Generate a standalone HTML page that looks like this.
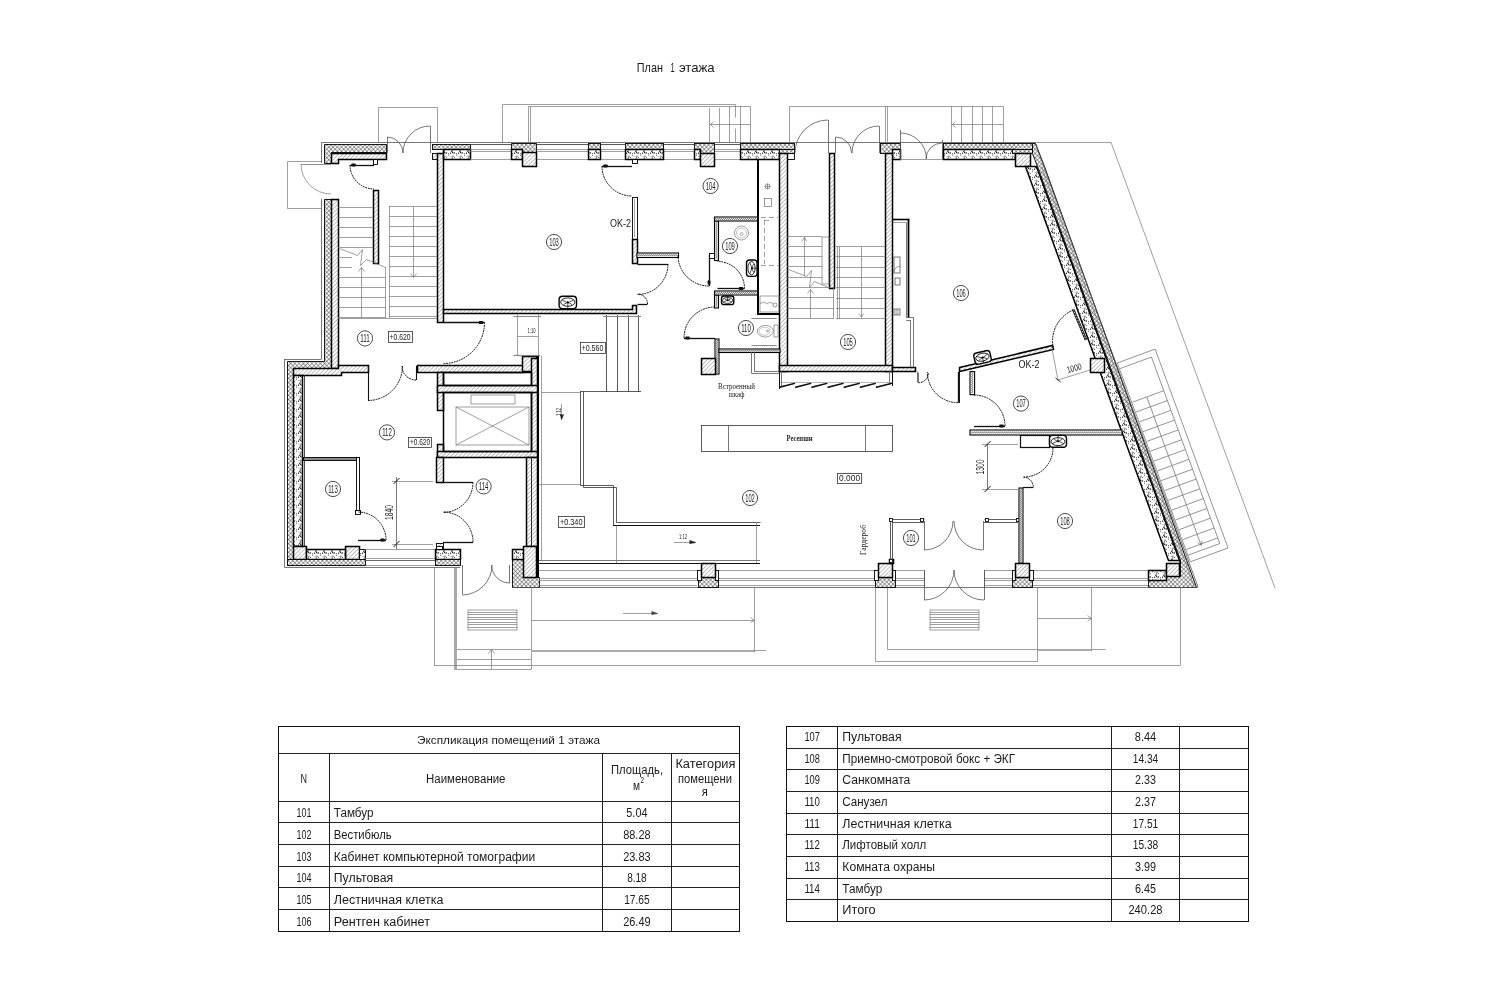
<!DOCTYPE html>
<html><head><meta charset="utf-8"><style>
html,body{margin:0;padding:0;background:#fff;}
svg{display:block;will-change:transform;}
</style></head><body>
<svg width="1500" height="1000" viewBox="0 0 1500 1000">
<defs>
<pattern id="xh" width="3.0" height="3.0" patternUnits="userSpaceOnUse" patternTransform="rotate(45)">
<rect width="3.0" height="3.0" fill="#fff"/>
<path d="M0,0 H3.0 M0,0 V3.0" stroke="#222" stroke-width="0.85"/>
</pattern>
<pattern id="dh" width="2.9" height="2.9" patternUnits="userSpaceOnUse" patternTransform="rotate(-45)">
<rect width="2.9" height="2.9" fill="#fff"/>
<path d="M0,0 H2.9" stroke="#555" stroke-width="0.75"/>
</pattern>
<pattern id="dt" width="8" height="8" patternUnits="userSpaceOnUse"><rect width="8" height="8" fill="#fff"/><circle cx="2.59" cy="1.21" r="0.61" fill="#111"/><circle cx="6.57" cy="0.75" r="0.60" fill="#222"/><circle cx="0.30" cy="3.47" r="0.47" fill="#111"/><circle cx="4.41" cy="0.47" r="0.59" fill="#222"/><circle cx="5.05" cy="4.66" r="0.47" fill="#444"/><circle cx="0.40" cy="1.77" r="0.59" fill="#222"/><circle cx="2.32" cy="1.15" r="0.48" fill="#333"/><circle cx="4.48" cy="5.46" r="0.48" fill="#222"/><circle cx="2.98" cy="4.38" r="0.47" fill="#111"/><circle cx="4.95" cy="3.97" r="0.58" fill="#333"/><circle cx="3.72" cy="7.39" r="0.54" fill="#222"/><circle cx="6.36" cy="5.59" r="0.51" fill="#333"/><circle cx="4.20" cy="7.00" r="0.63" fill="#333"/><circle cx="4.87" cy="0.59" r="0.58" fill="#222"/><circle cx="6.06" cy="1.22" r="0.57" fill="#111"/></pattern>
<pattern id="zz" width="2" height="3" patternUnits="userSpaceOnUse">
<rect width="2" height="3" fill="#fff"/>
<path d="M0,0.8 L1,2.2 L2,0.8" stroke="#444" stroke-width="0.7" fill="none"/>
</pattern>
<pattern id="zv" width="3" height="2" patternUnits="userSpaceOnUse">
<rect width="3" height="2" fill="#fff"/>
<path d="M0.8,0 L2.2,1 L0.8,2" stroke="#444" stroke-width="0.7" fill="none"/>
</pattern>
</defs>

<rect width="1500" height="1000" fill="#fff"/>
<text x="636.8" y="72.4" font-size="13.5" font-family='"Liberation Sans", sans-serif' text-anchor="start" fill="#1a1a1a" textLength="26.1" lengthAdjust="spacingAndGlyphs">План</text>
<text x="670.6" y="72.4" font-size="13.5" font-family='"Liberation Sans", sans-serif' text-anchor="start" fill="#1a1a1a" textLength="4.2" lengthAdjust="spacingAndGlyphs">1</text>
<text x="678.9" y="72.4" font-size="13.5" font-family='"Liberation Sans", sans-serif' text-anchor="start" fill="#1a1a1a" textLength="35.8" lengthAdjust="spacingAndGlyphs">этажа</text>
<rect x="278.5" y="726.5" width="461.0" height="205.0" fill="none" stroke="#111" stroke-width="1"/>
<line x1="278.4" y1="753.5" x2="739.4" y2="753.5" stroke="#222" stroke-width="1"/>
<line x1="278.4" y1="801.5" x2="739.4" y2="801.5" stroke="#222" stroke-width="1"/>
<line x1="278.4" y1="822.5" x2="739.4" y2="822.5" stroke="#222" stroke-width="1"/>
<line x1="278.4" y1="844.5" x2="739.4" y2="844.5" stroke="#222" stroke-width="1"/>
<line x1="278.4" y1="866.5" x2="739.4" y2="866.5" stroke="#222" stroke-width="1"/>
<line x1="278.4" y1="887.5" x2="739.4" y2="887.5" stroke="#222" stroke-width="1"/>
<line x1="278.4" y1="909.5" x2="739.4" y2="909.5" stroke="#222" stroke-width="1"/>
<line x1="329.5" y1="753.5" x2="329.5" y2="931.3" stroke="#222" stroke-width="1"/>
<line x1="602.5" y1="753.5" x2="602.5" y2="931.3" stroke="#222" stroke-width="1"/>
<line x1="671.5" y1="753.5" x2="671.5" y2="931.3" stroke="#222" stroke-width="1"/>
<text x="417.0" y="744.2" font-size="11.5" font-family='"Liberation Sans", sans-serif' text-anchor="start" fill="#1a1a1a" textLength="183.0" lengthAdjust="spacingAndGlyphs">Экспликация помещений 1 этажа</text>
<text x="303.7" y="782.7" font-size="12" font-family='"Liberation Sans", sans-serif' text-anchor="middle" fill="#1a1a1a" textLength="6.5" lengthAdjust="spacingAndGlyphs">N</text>
<text x="426.0" y="782.7" font-size="12.5" font-family='"Liberation Sans", sans-serif' text-anchor="start" fill="#1a1a1a" textLength="79.5" lengthAdjust="spacingAndGlyphs">Наименование</text>
<text x="611.0" y="774.0" font-size="12.5" font-family='"Liberation Sans", sans-serif' text-anchor="start" fill="#1a1a1a" textLength="52.0" lengthAdjust="spacingAndGlyphs">Площадь,</text>
<text x="636.4" y="790.4" font-size="12.5" font-family='"Liberation Sans", sans-serif' text-anchor="middle" fill="#1a1a1a" textLength="7.0" lengthAdjust="spacingAndGlyphs">м</text>
<text x="642.3" y="782.6" font-size="8.5" font-family='"Liberation Sans", sans-serif' text-anchor="middle" fill="#1a1a1a" textLength="3.6" lengthAdjust="spacingAndGlyphs">2</text>
<text x="675.4" y="768.0" font-size="12.5" font-family='"Liberation Sans", sans-serif' text-anchor="start" fill="#1a1a1a" textLength="60.0" lengthAdjust="spacingAndGlyphs">Категория</text>
<text x="678.0" y="782.7" font-size="12.5" font-family='"Liberation Sans", sans-serif' text-anchor="start" fill="#1a1a1a" textLength="54.0" lengthAdjust="spacingAndGlyphs">помещени</text>
<text x="704.7" y="796.0" font-size="12.5" font-family='"Liberation Sans", sans-serif' text-anchor="middle" fill="#1a1a1a" textLength="6.0" lengthAdjust="spacingAndGlyphs">я</text>
<text x="303.9" y="817.0" font-size="12.5" font-family='"Liberation Sans", sans-serif' text-anchor="middle" fill="#1a1a1a" textLength="15.0" lengthAdjust="spacingAndGlyphs">101</text>
<text x="333.8" y="817.0" font-size="12.5" font-family='"Liberation Sans", sans-serif' text-anchor="start" fill="#1a1a1a" textLength="39.6" lengthAdjust="spacingAndGlyphs">Тамбур</text>
<text x="636.9" y="817.0" font-size="12.5" font-family='"Liberation Sans", sans-serif' text-anchor="middle" fill="#1a1a1a" textLength="21.1" lengthAdjust="spacingAndGlyphs">5.04</text>
<text x="303.9" y="839.0" font-size="12.5" font-family='"Liberation Sans", sans-serif' text-anchor="middle" fill="#1a1a1a" textLength="15.0" lengthAdjust="spacingAndGlyphs">102</text>
<text x="333.8" y="839.0" font-size="12.5" font-family='"Liberation Sans", sans-serif' text-anchor="start" fill="#1a1a1a" textLength="57.9" lengthAdjust="spacingAndGlyphs">Вестибюль</text>
<text x="636.9" y="839.0" font-size="12.5" font-family='"Liberation Sans", sans-serif' text-anchor="middle" fill="#1a1a1a" textLength="27.5" lengthAdjust="spacingAndGlyphs">88.28</text>
<text x="303.9" y="861.0" font-size="12.5" font-family='"Liberation Sans", sans-serif' text-anchor="middle" fill="#1a1a1a" textLength="15.0" lengthAdjust="spacingAndGlyphs">103</text>
<text x="333.8" y="861.0" font-size="12.5" font-family='"Liberation Sans", sans-serif' text-anchor="start" fill="#1a1a1a" textLength="201.4" lengthAdjust="spacingAndGlyphs">Кабинет компьютерной томографии</text>
<text x="636.9" y="861.0" font-size="12.5" font-family='"Liberation Sans", sans-serif' text-anchor="middle" fill="#1a1a1a" textLength="27.5" lengthAdjust="spacingAndGlyphs">23.83</text>
<text x="303.9" y="882.4" font-size="12.5" font-family='"Liberation Sans", sans-serif' text-anchor="middle" fill="#1a1a1a" textLength="15.0" lengthAdjust="spacingAndGlyphs">104</text>
<text x="333.8" y="882.4" font-size="12.5" font-family='"Liberation Sans", sans-serif' text-anchor="start" fill="#1a1a1a" textLength="59.4" lengthAdjust="spacingAndGlyphs">Пультовая</text>
<text x="636.9" y="882.4" font-size="12.5" font-family='"Liberation Sans", sans-serif' text-anchor="middle" fill="#1a1a1a" textLength="19.5" lengthAdjust="spacingAndGlyphs">8.18</text>
<text x="303.9" y="904.0" font-size="12.5" font-family='"Liberation Sans", sans-serif' text-anchor="middle" fill="#1a1a1a" textLength="15.0" lengthAdjust="spacingAndGlyphs">105</text>
<text x="333.8" y="904.0" font-size="12.5" font-family='"Liberation Sans", sans-serif' text-anchor="start" fill="#1a1a1a" textLength="109.6" lengthAdjust="spacingAndGlyphs">Лестничная клетка</text>
<text x="636.9" y="904.0" font-size="12.5" font-family='"Liberation Sans", sans-serif' text-anchor="middle" fill="#1a1a1a" textLength="25.5" lengthAdjust="spacingAndGlyphs">17.65</text>
<text x="303.9" y="926.0" font-size="12.5" font-family='"Liberation Sans", sans-serif' text-anchor="middle" fill="#1a1a1a" textLength="15.0" lengthAdjust="spacingAndGlyphs">106</text>
<text x="333.8" y="926.0" font-size="12.5" font-family='"Liberation Sans", sans-serif' text-anchor="start" fill="#1a1a1a" textLength="96.2" lengthAdjust="spacingAndGlyphs">Рентген кабинет</text>
<text x="636.9" y="926.0" font-size="12.5" font-family='"Liberation Sans", sans-serif' text-anchor="middle" fill="#1a1a1a" textLength="27.5" lengthAdjust="spacingAndGlyphs">26.49</text>
<rect x="786.5" y="726.5" width="462.0" height="195.0" fill="none" stroke="#111" stroke-width="1"/>
<line x1="786.6" y1="748.5" x2="1248.2" y2="748.5" stroke="#222" stroke-width="1"/>
<line x1="786.6" y1="769.5" x2="1248.2" y2="769.5" stroke="#222" stroke-width="1"/>
<line x1="786.6" y1="791.5" x2="1248.2" y2="791.5" stroke="#222" stroke-width="1"/>
<line x1="786.6" y1="813.5" x2="1248.2" y2="813.5" stroke="#222" stroke-width="1"/>
<line x1="786.6" y1="834.5" x2="1248.2" y2="834.5" stroke="#222" stroke-width="1"/>
<line x1="786.6" y1="856.5" x2="1248.2" y2="856.5" stroke="#222" stroke-width="1"/>
<line x1="786.6" y1="878.5" x2="1248.2" y2="878.5" stroke="#222" stroke-width="1"/>
<line x1="786.6" y1="899.5" x2="1248.2" y2="899.5" stroke="#222" stroke-width="1"/>
<line x1="837.5" y1="726.6" x2="837.5" y2="921.1" stroke="#222" stroke-width="1"/>
<line x1="1111.5" y1="726.6" x2="1111.5" y2="921.1" stroke="#222" stroke-width="1"/>
<line x1="1179.5" y1="726.6" x2="1179.5" y2="921.1" stroke="#222" stroke-width="1"/>
<text x="812.2" y="741.2" font-size="12.5" font-family='"Liberation Sans", sans-serif' text-anchor="middle" fill="#1a1a1a" textLength="15.5" lengthAdjust="spacingAndGlyphs">107</text>
<text x="842.3" y="741.2" font-size="12.5" font-family='"Liberation Sans", sans-serif' text-anchor="start" fill="#1a1a1a" textLength="59.2" lengthAdjust="spacingAndGlyphs">Пультовая</text>
<text x="1145.5" y="741.2" font-size="12.5" font-family='"Liberation Sans", sans-serif' text-anchor="middle" fill="#1a1a1a" textLength="21.5" lengthAdjust="spacingAndGlyphs">8.44</text>
<text x="812.2" y="762.7" font-size="12.5" font-family='"Liberation Sans", sans-serif' text-anchor="middle" fill="#1a1a1a" textLength="15.5" lengthAdjust="spacingAndGlyphs">108</text>
<text x="842.3" y="762.7" font-size="12.5" font-family='"Liberation Sans", sans-serif' text-anchor="start" fill="#1a1a1a" textLength="172.7" lengthAdjust="spacingAndGlyphs">Приемно-смотровой бокс + ЭКГ</text>
<text x="1145.5" y="762.7" font-size="12.5" font-family='"Liberation Sans", sans-serif' text-anchor="middle" fill="#1a1a1a" textLength="25.3" lengthAdjust="spacingAndGlyphs">14.34</text>
<text x="812.2" y="784.3" font-size="12.5" font-family='"Liberation Sans", sans-serif' text-anchor="middle" fill="#1a1a1a" textLength="15.5" lengthAdjust="spacingAndGlyphs">109</text>
<text x="842.3" y="784.3" font-size="12.5" font-family='"Liberation Sans", sans-serif' text-anchor="start" fill="#1a1a1a" textLength="68.0" lengthAdjust="spacingAndGlyphs">Санкомната</text>
<text x="1145.5" y="784.3" font-size="12.5" font-family='"Liberation Sans", sans-serif' text-anchor="middle" fill="#1a1a1a" textLength="21.0" lengthAdjust="spacingAndGlyphs">2.33</text>
<text x="812.2" y="806.3" font-size="12.5" font-family='"Liberation Sans", sans-serif' text-anchor="middle" fill="#1a1a1a" textLength="15.5" lengthAdjust="spacingAndGlyphs">110</text>
<text x="842.3" y="806.3" font-size="12.5" font-family='"Liberation Sans", sans-serif' text-anchor="start" fill="#1a1a1a" textLength="45.1" lengthAdjust="spacingAndGlyphs">Санузел</text>
<text x="1145.5" y="806.3" font-size="12.5" font-family='"Liberation Sans", sans-serif' text-anchor="middle" fill="#1a1a1a" textLength="21.0" lengthAdjust="spacingAndGlyphs">2.37</text>
<text x="812.2" y="827.7" font-size="12.5" font-family='"Liberation Sans", sans-serif' text-anchor="middle" fill="#1a1a1a" textLength="15.5" lengthAdjust="spacingAndGlyphs">111</text>
<text x="842.3" y="827.7" font-size="12.5" font-family='"Liberation Sans", sans-serif' text-anchor="start" fill="#1a1a1a" textLength="109.4" lengthAdjust="spacingAndGlyphs">Лестничная клетка</text>
<text x="1145.5" y="827.7" font-size="12.5" font-family='"Liberation Sans", sans-serif' text-anchor="middle" fill="#1a1a1a" textLength="25.3" lengthAdjust="spacingAndGlyphs">17.51</text>
<text x="812.2" y="849.4" font-size="12.5" font-family='"Liberation Sans", sans-serif' text-anchor="middle" fill="#1a1a1a" textLength="15.5" lengthAdjust="spacingAndGlyphs">112</text>
<text x="842.3" y="849.4" font-size="12.5" font-family='"Liberation Sans", sans-serif' text-anchor="start" fill="#1a1a1a" textLength="84.0" lengthAdjust="spacingAndGlyphs">Лифтовый холл</text>
<text x="1145.5" y="849.4" font-size="12.5" font-family='"Liberation Sans", sans-serif' text-anchor="middle" fill="#1a1a1a" textLength="25.3" lengthAdjust="spacingAndGlyphs">15.38</text>
<text x="812.2" y="871.0" font-size="12.5" font-family='"Liberation Sans", sans-serif' text-anchor="middle" fill="#1a1a1a" textLength="15.5" lengthAdjust="spacingAndGlyphs">113</text>
<text x="842.3" y="871.0" font-size="12.5" font-family='"Liberation Sans", sans-serif' text-anchor="start" fill="#1a1a1a" textLength="92.8" lengthAdjust="spacingAndGlyphs">Комната охраны</text>
<text x="1145.5" y="871.0" font-size="12.5" font-family='"Liberation Sans", sans-serif' text-anchor="middle" fill="#1a1a1a" textLength="21.0" lengthAdjust="spacingAndGlyphs">3.99</text>
<text x="812.2" y="892.6" font-size="12.5" font-family='"Liberation Sans", sans-serif' text-anchor="middle" fill="#1a1a1a" textLength="15.5" lengthAdjust="spacingAndGlyphs">114</text>
<text x="842.3" y="892.6" font-size="12.5" font-family='"Liberation Sans", sans-serif' text-anchor="start" fill="#1a1a1a" textLength="40.0" lengthAdjust="spacingAndGlyphs">Тамбур</text>
<text x="1145.5" y="892.6" font-size="12.5" font-family='"Liberation Sans", sans-serif' text-anchor="middle" fill="#1a1a1a" textLength="21.0" lengthAdjust="spacingAndGlyphs">6.45</text>
<text x="842.3" y="914.1" font-size="12.5" font-family='"Liberation Sans", sans-serif' text-anchor="start" fill="#1a1a1a" textLength="33.4" lengthAdjust="spacingAndGlyphs">Итого</text>
<text x="1145.5" y="914.1" font-size="12.5" font-family='"Liberation Sans", sans-serif' text-anchor="middle" fill="#1a1a1a" textLength="34.2" lengthAdjust="spacingAndGlyphs">240.28</text>
<polyline points="378.5,142.5 378.5,107.5 437.5,107.5 437.5,142.5" stroke="#777" stroke-width="0.7" fill="none"/>
<polyline points="321.5,161.5 287.5,161.5 287.5,208.5 321.5,208.5" stroke="#777" stroke-width="0.7" fill="none"/>
<line x1="321.6" y1="142.5" x2="1035.0" y2="142.5" stroke="#555" stroke-width="0.8" fill="none"/>
<line x1="321.5" y1="142.4" x2="321.5" y2="163.0" stroke="#555" stroke-width="0.8" fill="none"/>
<line x1="321.5" y1="199.0" x2="321.5" y2="359.0" stroke="#555" stroke-width="0.8" fill="none"/>
<line x1="321.6" y1="359.5" x2="284.3" y2="359.5" stroke="#555" stroke-width="0.8" fill="none"/>
<line x1="284.5" y1="359.0" x2="284.5" y2="567.0" stroke="#555" stroke-width="0.8" fill="none"/>
<line x1="284.3" y1="567.5" x2="460.0" y2="567.5" stroke="#555" stroke-width="0.8" fill="none"/>
<polygon points="324.5,144.5 386.5,144.5 386.5,152.5 331.5,152.5 331.5,163.5 324.5,163.5" fill="url(#xh)" stroke="#000" stroke-width="0.9"/>
<polygon points="324.5,199.5 331.5,199.5 331.5,368.5 293.5,368.5 293.5,565.5 287.5,565.5 287.5,361.5 324.5,361.5" fill="url(#xh)" stroke="#000" stroke-width="0.9"/>
<polygon points="331.5,153.5 386.5,153.5 386.5,159.5 338.5,159.5 338.5,163.5 331.5,163.5" fill="url(#dh)" stroke="#000" stroke-width="1.5"/>
<rect x="331.5" y="199.5" width="7.0" height="169.0" fill="url(#dh)" stroke="#000" stroke-width="1.5"/>
<rect x="373.5" y="159.5" width="4.0" height="5.0" fill="#fff" stroke="#000" stroke-width="0.9"/>
<line x1="387.5" y1="137.0" x2="387.5" y2="153.0" stroke="#555" stroke-width="0.8" fill="none"/>
<path d="M387.0,137.0 A16.0,16.0 0 0 1 403.0,153.0" stroke="#555" stroke-width="0.8" fill="none"/>
<line x1="430.5" y1="126.0" x2="430.5" y2="153.0" stroke="#555" stroke-width="0.8" fill="none"/>
<path d="M430.0,126.0 A27.0,27.0 0 0 0 403.0,153.0" stroke="#555" stroke-width="0.8" fill="none"/>
<line x1="331.0" y1="164.5" x2="301.0" y2="164.5" stroke="#777" stroke-width="0.8"/>
<path d="M301.0,164.0 A30.0,30.0 0 0 0 331.0,194.0" stroke="#777" stroke-width="0.7" fill="none"/>
<line x1="374.0" y1="165.5" x2="350.0" y2="165.5" stroke="#111" stroke-width="1.3"/>
<path d="M350.0,165.0 A24.0,24.0 0 0 0 374.0,189.0" stroke="#000" stroke-width="0.95" fill="none" stroke-dasharray="1.8,0.8"/>
<rect x="351.2" y="163.6" width="4.6" height="2.8" rx="1" fill="#111" transform="rotate(180 353.5 165.0)"/>
<rect x="373.5" y="190.5" width="5.0" height="73.0" fill="url(#dh)" stroke="#000" stroke-width="1.5"/>
<rect x="432.5" y="144.5" width="38.0" height="5.0" fill="url(#xh)" stroke="#000" stroke-width="0.9"/>
<rect x="432.5" y="153.5" width="5.0" height="6.0" fill="url(#dh)" stroke="#000" stroke-width="0.9"/>
<rect x="437.5" y="153.5" width="6.0" height="169.0" fill="url(#dh)" stroke="#000" stroke-width="1.5"/>
<rect x="443.5" y="149.5" width="27.0" height="10.0" fill="url(#dt)" stroke="#000" stroke-width="1.5"/>
<line x1="338.0" y1="207.5" x2="373.4" y2="207.5" stroke="#777" stroke-width="0.7" fill="none"/>
<line x1="389.4" y1="206.5" x2="437.0" y2="206.5" stroke="#777" stroke-width="0.7" fill="none"/>
<line x1="338.0" y1="217.5" x2="373.4" y2="217.5" stroke="#777" stroke-width="0.7" fill="none"/>
<line x1="389.4" y1="216.5" x2="437.0" y2="216.5" stroke="#777" stroke-width="0.7" fill="none"/>
<line x1="338.0" y1="227.5" x2="373.4" y2="227.5" stroke="#777" stroke-width="0.7" fill="none"/>
<line x1="389.4" y1="226.5" x2="437.0" y2="226.5" stroke="#777" stroke-width="0.7" fill="none"/>
<line x1="338.0" y1="237.5" x2="373.4" y2="237.5" stroke="#777" stroke-width="0.7" fill="none"/>
<line x1="389.4" y1="236.5" x2="437.0" y2="236.5" stroke="#777" stroke-width="0.7" fill="none"/>
<line x1="338.0" y1="247.5" x2="373.4" y2="247.5" stroke="#777" stroke-width="0.7" fill="none"/>
<line x1="389.4" y1="246.5" x2="437.0" y2="246.5" stroke="#777" stroke-width="0.7" fill="none"/>
<line x1="338.0" y1="257.5" x2="352.0" y2="257.5" stroke="#777" stroke-width="0.7" fill="none"/>
<line x1="389.4" y1="256.5" x2="437.0" y2="256.5" stroke="#777" stroke-width="0.7" fill="none"/>
<line x1="338.0" y1="267.5" x2="352.0" y2="267.5" stroke="#777" stroke-width="0.7" fill="none"/>
<line x1="389.4" y1="266.5" x2="437.0" y2="266.5" stroke="#777" stroke-width="0.7" fill="none"/>
<line x1="338.0" y1="277.5" x2="385.4" y2="277.5" stroke="#777" stroke-width="0.7" fill="none"/>
<line x1="389.4" y1="276.5" x2="437.0" y2="276.5" stroke="#777" stroke-width="0.7" fill="none"/>
<line x1="338.0" y1="287.5" x2="385.4" y2="287.5" stroke="#777" stroke-width="0.7" fill="none"/>
<line x1="389.4" y1="286.5" x2="437.0" y2="286.5" stroke="#777" stroke-width="0.7" fill="none"/>
<line x1="338.0" y1="297.5" x2="385.4" y2="297.5" stroke="#777" stroke-width="0.7" fill="none"/>
<line x1="389.4" y1="296.5" x2="437.0" y2="296.5" stroke="#777" stroke-width="0.7" fill="none"/>
<line x1="338.0" y1="307.5" x2="385.4" y2="307.5" stroke="#777" stroke-width="0.7" fill="none"/>
<line x1="389.4" y1="306.5" x2="437.0" y2="306.5" stroke="#777" stroke-width="0.7" fill="none"/>
<line x1="338.0" y1="317.5" x2="385.4" y2="317.5" stroke="#777" stroke-width="0.7" fill="none"/>
<line x1="389.4" y1="316.5" x2="437.0" y2="316.5" stroke="#777" stroke-width="0.7" fill="none"/>
<line x1="338.0" y1="318.5" x2="437.0" y2="318.5" stroke="#777" stroke-width="0.7" fill="none"/>
<line x1="385.5" y1="267.0" x2="385.5" y2="318.0" stroke="#777" stroke-width="0.7" fill="none"/>
<line x1="389.5" y1="206.0" x2="389.5" y2="318.0" stroke="#777" stroke-width="0.7" fill="none"/>
<polyline points="339.5,248.5 357.5,255.5 362.5,249.5 360.5,265.5 366.5,259.5 385.5,267.5" stroke="#777" stroke-width="0.7" fill="none"/>
<line x1="361.5" y1="318.0" x2="361.5" y2="267.0" stroke="#777" stroke-width="0.7" fill="none"/>
<polyline points="358.5,271.5 361.5,267.5 364.5,271.5" stroke="#777" stroke-width="0.7" fill="none"/>
<line x1="413.5" y1="207.0" x2="413.5" y2="277.0" stroke="#777" stroke-width="0.7" fill="none"/>
<polyline points="410.5,273.5 413.5,277.5 416.5,273.5" stroke="#777" stroke-width="0.7" fill="none"/>
<circle cx="365.0" cy="338.4" r="7.6" fill="none" stroke="#222" stroke-width="0.8"/>
<text x="365.0" y="341.9" font-size="10" font-family='"Liberation Sans", sans-serif' text-anchor="middle" fill="#1a1a1a" textLength="9.6" lengthAdjust="spacingAndGlyphs">111</text>
<rect x="388.5" y="331.5" width="24.0" height="11.0" fill="none" stroke="#333" stroke-width="0.8"/>
<text x="400.0" y="340.1" font-size="9.5" font-family='"Liberation Sans", sans-serif' text-anchor="middle" fill="#1a1a1a" textLength="21.0" lengthAdjust="spacingAndGlyphs">+0.620</text>
<polyline points="502.5,142.5 502.5,104.5 735.5,104.5 735.5,117.5" stroke="#777" stroke-width="0.7" fill="none"/>
<line x1="735.5" y1="128.5" x2="735.5" y2="142.4" stroke="#777" stroke-width="0.7" fill="none"/>
<polyline points="528.5,142.5 528.5,106.5 750.5,106.5 750.5,142.5" stroke="#777" stroke-width="0.7" fill="none"/>
<line x1="530.5" y1="106.4" x2="530.5" y2="142.4" stroke="#777" stroke-width="0.7" fill="none"/>
<line x1="709.5" y1="108.0" x2="709.5" y2="142.4" stroke="#777" stroke-width="0.7" fill="none"/>
<line x1="719.5" y1="108.0" x2="719.5" y2="142.4" stroke="#777" stroke-width="0.7" fill="none"/>
<line x1="729.5" y1="106.4" x2="729.5" y2="142.4" stroke="#777" stroke-width="0.7" fill="none"/>
<line x1="740.5" y1="106.4" x2="740.5" y2="142.4" stroke="#777" stroke-width="0.7" fill="none"/>
<line x1="709.6" y1="124.5" x2="750.4" y2="124.5" stroke="#777" stroke-width="0.7" fill="none"/>
<polyline points="713.5,121.5 710.5,124.5 713.5,127.5" stroke="#777" stroke-width="0.7" fill="none"/>
<polyline points="789.5,142.5 789.5,106.5 1003.5,106.5 1003.5,142.5" stroke="#777" stroke-width="0.7" fill="none"/>
<line x1="885.5" y1="106.4" x2="885.5" y2="142.4" stroke="#777" stroke-width="0.7" fill="none"/>
<line x1="887.5" y1="106.4" x2="887.5" y2="142.4" stroke="#777" stroke-width="0.7" fill="none"/>
<line x1="951.5" y1="106.4" x2="951.5" y2="142.4" stroke="#777" stroke-width="0.7" fill="none"/>
<line x1="961.5" y1="106.4" x2="961.5" y2="142.4" stroke="#777" stroke-width="0.7" fill="none"/>
<line x1="972.5" y1="106.4" x2="972.5" y2="142.4" stroke="#777" stroke-width="0.7" fill="none"/>
<line x1="982.5" y1="106.4" x2="982.5" y2="142.4" stroke="#777" stroke-width="0.7" fill="none"/>
<line x1="992.5" y1="106.4" x2="992.5" y2="142.4" stroke="#777" stroke-width="0.7" fill="none"/>
<line x1="951.0" y1="124.5" x2="1003.0" y2="124.5" stroke="#777" stroke-width="0.7" fill="none"/>
<polyline points="955.5,121.5 952.5,124.5 955.5,127.5" stroke="#777" stroke-width="0.7" fill="none"/>
<line x1="470.0" y1="144.5" x2="511.6" y2="144.5" stroke="#333" stroke-width="0.8"/>
<line x1="470.0" y1="149.5" x2="511.6" y2="149.5" stroke="#777" stroke-width="0.7" fill="none"/>
<line x1="470.0" y1="151.5" x2="511.6" y2="151.5" stroke="#777" stroke-width="0.7" fill="none"/>
<line x1="470.0" y1="159.5" x2="511.6" y2="159.5" stroke="#777" stroke-width="0.7" fill="none"/>
<line x1="536.4" y1="144.5" x2="588.4" y2="144.5" stroke="#333" stroke-width="0.8"/>
<line x1="536.4" y1="149.5" x2="588.4" y2="149.5" stroke="#777" stroke-width="0.7" fill="none"/>
<line x1="536.4" y1="151.5" x2="588.4" y2="151.5" stroke="#777" stroke-width="0.7" fill="none"/>
<line x1="536.4" y1="159.5" x2="588.4" y2="159.5" stroke="#777" stroke-width="0.7" fill="none"/>
<line x1="600.4" y1="144.5" x2="625.6" y2="144.5" stroke="#333" stroke-width="0.8"/>
<line x1="600.4" y1="149.5" x2="625.6" y2="149.5" stroke="#777" stroke-width="0.7" fill="none"/>
<line x1="600.4" y1="151.5" x2="625.6" y2="151.5" stroke="#777" stroke-width="0.7" fill="none"/>
<line x1="600.4" y1="159.5" x2="625.6" y2="159.5" stroke="#777" stroke-width="0.7" fill="none"/>
<line x1="663.6" y1="144.5" x2="694.0" y2="144.5" stroke="#333" stroke-width="0.8"/>
<line x1="663.6" y1="149.5" x2="694.0" y2="149.5" stroke="#777" stroke-width="0.7" fill="none"/>
<line x1="663.6" y1="151.5" x2="694.0" y2="151.5" stroke="#777" stroke-width="0.7" fill="none"/>
<line x1="663.6" y1="159.5" x2="694.0" y2="159.5" stroke="#777" stroke-width="0.7" fill="none"/>
<line x1="714.4" y1="144.5" x2="740.4" y2="144.5" stroke="#333" stroke-width="0.8"/>
<line x1="714.4" y1="149.5" x2="740.4" y2="149.5" stroke="#777" stroke-width="0.7" fill="none"/>
<line x1="714.4" y1="151.5" x2="740.4" y2="151.5" stroke="#777" stroke-width="0.7" fill="none"/>
<line x1="714.4" y1="159.5" x2="740.4" y2="159.5" stroke="#777" stroke-width="0.7" fill="none"/>
<polygon points="511.5,143.5 536.5,143.5 536.5,152.5 522.5,152.5 522.5,149.5 511.5,149.5" fill="url(#xh)" stroke="#000" stroke-width="0.9"/>
<rect x="511.5" y="149.5" width="11.0" height="10.0" fill="url(#dt)" stroke="#000" stroke-width="1.5"/>
<rect x="522.5" y="152.5" width="14.0" height="14.0" fill="url(#dh)" stroke="#000" stroke-width="1.5"/>
<rect x="588.5" y="143.5" width="12.0" height="6.0" fill="url(#xh)" stroke="#000" stroke-width="0.9"/>
<rect x="588.5" y="149.5" width="12.0" height="10.0" fill="url(#dt)" stroke="#000" stroke-width="1.5"/>
<rect x="625.5" y="143.5" width="38.0" height="6.0" fill="url(#xh)" stroke="#000" stroke-width="0.9"/>
<rect x="625.5" y="149.5" width="38.0" height="10.0" fill="url(#dt)" stroke="#000" stroke-width="1.5"/>
<rect x="632.5" y="159.5" width="5.0" height="4.0" fill="#fff" stroke="#000" stroke-width="0.9"/>
<rect x="694.5" y="143.5" width="20.0" height="10.0" fill="url(#xh)" stroke="#000" stroke-width="0.9"/>
<rect x="694.5" y="149.5" width="6.0" height="10.0" fill="url(#dt)" stroke="#000" stroke-width="1.5"/>
<rect x="700.5" y="153.5" width="14.0" height="13.0" fill="url(#dh)" stroke="#000" stroke-width="1.5"/>
<rect x="740.5" y="143.5" width="54.0" height="6.0" fill="url(#xh)" stroke="#000" stroke-width="0.9"/>
<rect x="740.5" y="149.5" width="39.0" height="10.0" fill="url(#dt)" stroke="#000" stroke-width="1.5"/>
<rect x="787.5" y="153.5" width="7.0" height="6.0" fill="#fff" stroke="#000" stroke-width="0.9"/>
<rect x="779.5" y="149.5" width="15.0" height="4.0" fill="url(#xh)" stroke="#000" stroke-width="0.9"/>
<rect x="779.5" y="153.5" width="8.0" height="218.0" fill="url(#dh)" stroke="#000" stroke-width="1.5"/>
<line x1="828.5" y1="120.0" x2="828.5" y2="153.0" stroke="#555" stroke-width="0.8" fill="none"/>
<path d="M828.0,120.0 A33.0,33.0 0 0 0 795.0,153.0" stroke="#555" stroke-width="0.8" fill="none"/>
<rect x="829.5" y="153.5" width="5.0" height="135.0" fill="url(#dh)" stroke="#000" stroke-width="1.5"/>
<line x1="835.5" y1="137.0" x2="835.5" y2="153.0" stroke="#555" stroke-width="0.8" fill="none"/>
<path d="M835.6,137.0 A16.0,16.0 0 0 1 851.6,153.0" stroke="#555" stroke-width="0.8" fill="none"/>
<line x1="879.5" y1="126.0" x2="879.5" y2="153.0" stroke="#555" stroke-width="0.8" fill="none"/>
<path d="M879.0,126.0 A27.0,27.0 0 0 0 852.0,153.0" stroke="#555" stroke-width="0.8" fill="none"/>
<rect x="880.5" y="143.5" width="20.0" height="10.0" fill="url(#xh)" stroke="#000" stroke-width="0.9"/>
<rect x="892.5" y="149.5" width="8.0" height="10.0" fill="url(#dt)" stroke="#000" stroke-width="1.5"/>
<rect x="885.5" y="153.5" width="7.0" height="218.0" fill="url(#dh)" stroke="#000" stroke-width="1.5"/>
<line x1="900.5" y1="130.0" x2="900.5" y2="159.0" stroke="#555" stroke-width="0.8" fill="none"/>
<path d="M900.4,133.0 A26.0,26.0 0 0 1 926.4,159.0" stroke="#555" stroke-width="0.8" fill="none"/>
<line x1="942.5" y1="140.0" x2="942.5" y2="159.0" stroke="#555" stroke-width="0.8" fill="none"/>
<path d="M942.0,143.0 A16.0,16.0 0 0 0 926.0,159.0" stroke="#555" stroke-width="0.8" fill="none"/>
<line x1="900.0" y1="159.5" x2="943.0" y2="159.5" stroke="#777" stroke-width="0.7" fill="none"/>
<rect x="943.5" y="143.5" width="89.0" height="6.0" fill="url(#xh)" stroke="#000" stroke-width="0.9"/>
<rect x="943.5" y="149.5" width="72.0" height="10.0" fill="url(#dt)" stroke="#000" stroke-width="1.5"/>
<rect x="1012.5" y="149.5" width="20.0" height="4.0" fill="url(#xh)" stroke="#000" stroke-width="0.9"/>
<rect x="1015.5" y="153.5" width="15.0" height="13.0" fill="url(#dh)" stroke="#000" stroke-width="1.5"/>
<polygon points="1030.5,166.5 1036.5,166.5 1179.5,560.5 1180.5,563.5 1180.5,560.5 1168.5,560.5 1025.5,166.5" fill="url(#dt)" stroke="#000" stroke-width="1.5"/>
<polygon points="1032.5,143.5 1035.5,143.5 1044.5,166.5 1196.5,587.5 1148.5,587.5 1148.5,580.5 1166.5,580.5 1166.5,576.5 1180.5,576.5 1180.5,563.5 1180.5,560.5 1037.5,166.5 1032.5,153.5" fill="url(#xh)" stroke="#000" stroke-width="0.9"/>
<line x1="1035.0" y1="142.4" x2="1198.0" y2="587.0" stroke="#555" stroke-width="0.8" fill="none"/>
<line x1="1041.5" y1="166.6" x2="1194.3" y2="587.0" stroke="#777" stroke-width="0.7" fill="none"/>
<rect x="1148.5" y="570.5" width="18.0" height="10.0" fill="url(#dt)" stroke="#000" stroke-width="1.5"/>
<rect x="1166.5" y="563.5" width="13.0" height="13.0" fill="url(#dh)" stroke="#000" stroke-width="1.5"/>
<line x1="1148.0" y1="587.5" x2="1198.0" y2="587.5" stroke="#555" stroke-width="0.8" fill="none"/>
<line x1="1035.0" y1="142.5" x2="1111.0" y2="142.5" stroke="#777" stroke-width="0.7" fill="none"/>
<line x1="1111.0" y1="142.4" x2="1275.0" y2="588.0" stroke="#777" stroke-width="0.7" fill="none"/>
<polygon points="443.5,309.5 632.5,309.5 632.5,305.5 636.5,305.5 636.5,313.5 443.5,313.5" fill="url(#dh)" stroke="#000" stroke-width="1.5"/>
<rect x="632.5" y="197.5" width="5.0" height="42.0" fill="#fff" stroke="#000" stroke-width="0.9"/>
<line x1="634.5" y1="199.0" x2="634.5" y2="237.0" stroke="#666" stroke-width="0.6"/>
<rect x="632.5" y="239.5" width="5.0" height="24.0" fill="url(#dh)" stroke="#000" stroke-width="1.5"/>
<text x="610.0" y="226.5" font-size="10" font-family='"Liberation Sans", sans-serif' text-anchor="start" fill="#1a1a1a" textLength="21.0" lengthAdjust="spacingAndGlyphs">OK-2</text>
<line x1="632.0" y1="166.5" x2="602.0" y2="166.5" stroke="#111" stroke-width="1.3"/>
<path d="M602.0,166.0 A30.0,30.0 0 0 0 632.0,196.0" stroke="#000" stroke-width="0.95" fill="none" stroke-dasharray="1.8,0.8"/>
<rect x="603.2" y="164.6" width="4.6" height="2.8" rx="1" fill="#111" transform="rotate(180 605.5 166.0)"/>
<rect x="637.0" y="253.0" width="41.5" height="4.5" fill="#fff" stroke="#000" stroke-width="1.1"/>
<polyline points="637.8,254.3 638.8,256.1 639.8,254.3 640.8,256.1 641.8,254.3 642.8,256.1 643.8,254.3 644.8,256.1 645.8,254.3 646.8,256.1 647.8,254.3 648.8,256.1 649.8,254.3 650.8,256.1 651.8,254.3 652.8,256.1 653.8,254.3 654.8,256.1 655.8,254.3 656.8,256.1 657.8,254.3 658.8,256.1 659.8,254.3 660.8,256.1 661.8,254.3 662.8,256.1 663.8,254.3 664.8,256.1 665.8,254.3 666.8,256.1 667.8,254.3 668.8,256.1 669.8,254.3 670.8,256.1 671.8,254.3 672.8,256.1 673.8,254.3 674.8,256.1 675.8,254.3 676.8,256.1" fill="none" stroke="#555" stroke-width="0.6"/>
<line x1="637.5" y1="264.5" x2="668.0" y2="264.5" stroke="#111" stroke-width="1.3"/>
<path d="M668.0,264.0 A30.5,30.5 0 0 1 637.5,294.5" stroke="#000" stroke-width="0.95" fill="none" stroke-dasharray="1.8,0.8"/>
<line x1="637.5" y1="304.5" x2="647.5" y2="304.5" stroke="#111" stroke-width="1.3"/>
<path d="M647.5,304.0 A10.0,10.0 0 0 0 637.5,294.0" stroke="#000" stroke-width="0.95" fill="none" stroke-dasharray="1.8,0.8"/>
<line x1="709.5" y1="255.0" x2="709.5" y2="286.0" stroke="#111" stroke-width="1.3"/>
<path d="M709.0,286.0 A31.0,31.0 0 0 1 678.0,255.0" stroke="#000" stroke-width="0.95" fill="none" stroke-dasharray="1.8,0.8"/>
<rect x="706.7" y="281.1" width="4.6" height="2.8" rx="1" fill="#111" transform="rotate(90 709.0 282.5)"/>
<rect x="709.5" y="253.5" width="5.0" height="5.0" fill="#fff" stroke="#000" stroke-width="0.9"/>
<rect x="714.5" y="221.0" width="4.0" height="39.5" fill="#fff" stroke="#000" stroke-width="1.1"/>
<polyline points="715.6,221.8 717.4,222.8 715.6,223.8 717.4,224.8 715.6,225.8 717.4,226.8 715.6,227.8 717.4,228.8 715.6,229.8 717.4,230.8 715.6,231.8 717.4,232.8 715.6,233.8 717.4,234.8 715.6,235.8 717.4,236.8 715.6,237.8 717.4,238.8 715.6,239.8 717.4,240.8 715.6,241.8 717.4,242.8 715.6,243.8 717.4,244.8 715.6,245.8 717.4,246.8 715.6,247.8 717.4,248.8 715.6,249.8 717.4,250.8 715.6,251.8 717.4,252.8 715.6,253.8 717.4,254.8 715.6,255.8 717.4,256.8 715.6,257.8 717.4,258.8" fill="none" stroke="#555" stroke-width="0.6"/>
<rect x="714.5" y="217.0" width="43.0" height="4.0" fill="#fff" stroke="#000" stroke-width="1.1"/>
<polyline points="715.3,218.1 716.3,219.9 717.3,218.1 718.3,219.9 719.3,218.1 720.3,219.9 721.3,218.1 722.3,219.9 723.3,218.1 724.3,219.9 725.3,218.1 726.3,219.9 727.3,218.1 728.3,219.9 729.3,218.1 730.3,219.9 731.3,218.1 732.3,219.9 733.3,218.1 734.3,219.9 735.3,218.1 736.3,219.9 737.3,218.1 738.3,219.9 739.3,218.1 740.3,219.9 741.3,218.1 742.3,219.9 743.3,218.1 744.3,219.9 745.3,218.1 746.3,219.9 747.3,218.1 748.3,219.9 749.3,218.1 750.3,219.9 751.3,218.1 752.3,219.9 753.3,218.1 754.3,219.9 755.3,218.1 756.3,219.9" fill="none" stroke="#555" stroke-width="0.6"/>
<circle cx="741.5" cy="233" r="7" fill="none" stroke="#777" stroke-width="0.7"/>
<circle cx="741.5" cy="233" r="5" fill="none" stroke="#999" stroke-width="0.6"/>
<circle cx="741.5" cy="234" r="1.5" fill="none" stroke="#777" stroke-width="0.6"/>
<circle cx="730.0" cy="246.0" r="7.6" fill="none" stroke="#222" stroke-width="0.8"/>
<text x="730.0" y="249.5" font-size="10" font-family='"Liberation Sans", sans-serif' text-anchor="middle" fill="#1a1a1a" textLength="9.6" lengthAdjust="spacingAndGlyphs">109</text>
<g transform="translate(751.8,268.2) rotate(-90)"><rect x="-8.2" y="-5.3" width="16.4" height="10.6" rx="2.9" fill="#fff" stroke="#000" stroke-width="1.4"/><ellipse cx="0" cy="-0.3" rx="6.7" ry="3.6" fill="none" stroke="#111" stroke-width="0.9"/><path d="M-5.7,-2.1 L0,0.3 L5.7,-2.1 M-4.1,1.9 L0,-0.3 L4.1,1.9 M0,-0.5 V5.3" fill="none" stroke="#111" stroke-width="0.7"/><path d="M0,-1.3 L-1.2,0.8 L1.2,0.8 Z" fill="#000"/></g>
<line x1="717.5" y1="288.5" x2="744.5" y2="288.5" stroke="#111" stroke-width="1.3"/>
<path d="M744.5,288.5 A27.0,27.0 0 0 0 717.5,261.5" stroke="#000" stroke-width="0.95" fill="none" stroke-dasharray="1.8,0.8"/>
<rect x="738.7" y="287.1" width="4.6" height="2.8" rx="1" fill="#111" transform="rotate(0 741.0 288.5)"/>
<rect x="714.5" y="295.0" width="4.0" height="13.0" fill="#fff" stroke="#000" stroke-width="1.1"/>
<polyline points="715.6,295.8 717.4,296.8 715.6,297.8 717.4,298.8 715.6,299.8 717.4,300.8 715.6,301.8 717.4,302.8 715.6,303.8 717.4,304.8 715.6,305.8 717.4,306.8" fill="none" stroke="#555" stroke-width="0.6"/>
<rect x="714.5" y="291.0" width="43.0" height="4.0" fill="#fff" stroke="#000" stroke-width="1.1"/>
<polyline points="715.3,292.1 716.3,293.9 717.3,292.1 718.3,293.9 719.3,292.1 720.3,293.9 721.3,292.1 722.3,293.9 723.3,292.1 724.3,293.9 725.3,292.1 726.3,293.9 727.3,292.1 728.3,293.9 729.3,292.1 730.3,293.9 731.3,292.1 732.3,293.9 733.3,292.1 734.3,293.9 735.3,292.1 736.3,293.9 737.3,292.1 738.3,293.9 739.3,292.1 740.3,293.9 741.3,292.1 742.3,293.9 743.3,292.1 744.3,293.9 745.3,292.1 746.3,293.9 747.3,292.1 748.3,293.9 749.3,292.1 750.3,293.9 751.3,292.1 752.3,293.9 753.3,292.1 754.3,293.9 755.3,292.1 756.3,293.9" fill="none" stroke="#555" stroke-width="0.6"/>
<rect x="715.0" y="339.0" width="4.0" height="35.0" fill="#fff" stroke="#000" stroke-width="1.1"/>
<polyline points="716.1,339.8 717.9,340.8 716.1,341.8 717.9,342.8 716.1,343.8 717.9,344.8 716.1,345.8 717.9,346.8 716.1,347.8 717.9,348.8 716.1,349.8 717.9,350.8 716.1,351.8 717.9,352.8 716.1,353.8 717.9,354.8 716.1,355.8 717.9,356.8 716.1,357.8 717.9,358.8 716.1,359.8 717.9,360.8 716.1,361.8 717.9,362.8 716.1,363.8 717.9,364.8 716.1,365.8 717.9,366.8 716.1,367.8 717.9,368.8 716.1,369.8 717.9,370.8 716.1,371.8 717.9,372.8" fill="none" stroke="#555" stroke-width="0.6"/>
<rect x="719.0" y="349.0" width="61.0" height="3.5" fill="#fff" stroke="#000" stroke-width="1.1"/>
<polyline points="719.8,349.9 720.8,351.6 721.8,349.9 722.8,351.6 723.8,349.9 724.8,351.6 725.8,349.9 726.8,351.6 727.8,349.9 728.8,351.6 729.8,349.9 730.8,351.6 731.8,349.9 732.8,351.6 733.8,349.9 734.8,351.6 735.8,349.9 736.8,351.6 737.8,349.9 738.8,351.6 739.8,349.9 740.8,351.6 741.8,349.9 742.8,351.6 743.8,349.9 744.8,351.6 745.8,349.9 746.8,351.6 747.8,349.9 748.8,351.6 749.8,349.9 750.8,351.6 751.8,349.9 752.8,351.6 753.8,349.9 754.8,351.6 755.8,349.9 756.8,351.6 757.8,349.9 758.8,351.6 759.8,349.9 760.8,351.6 761.8,349.9 762.8,351.6 763.8,349.9 764.8,351.6 765.8,349.9 766.8,351.6 767.8,349.9 768.8,351.6 769.8,349.9 770.8,351.6 771.8,349.9 772.8,351.6 773.8,349.9 774.8,351.6 775.8,349.9 776.8,351.6 777.8,349.9 778.8,351.6" fill="none" stroke="#555" stroke-width="0.6"/>
<rect x="701.5" y="358.5" width="14.0" height="16.0" fill="url(#dh)" stroke="#000" stroke-width="1.5"/>
<line x1="715.0" y1="338.5" x2="684.0" y2="338.5" stroke="#111" stroke-width="1.3"/>
<path d="M684.0,338.0 A31.0,31.0 0 0 1 715.0,307.0" stroke="#000" stroke-width="0.95" fill="none" stroke-dasharray="1.8,0.8"/>
<rect x="685.2" y="336.6" width="4.6" height="2.8" rx="1" fill="#111" transform="rotate(180 687.5 338.0)"/>
<circle cx="746.0" cy="328.0" r="7.6" fill="none" stroke="#222" stroke-width="0.8"/>
<text x="746.0" y="331.5" font-size="10" font-family='"Liberation Sans", sans-serif' text-anchor="middle" fill="#1a1a1a" textLength="9.6" lengthAdjust="spacingAndGlyphs">110</text>
<ellipse cx="765.3" cy="331.2" rx="8" ry="5.8" fill="none" stroke="#777" stroke-width="0.7"/>
<ellipse cx="764.5" cy="331.2" rx="5.5" ry="4" fill="none" stroke="#999" stroke-width="0.6"/>
<circle cx="767.5" cy="331" r="0.9" fill="none" stroke="#666" stroke-width="0.6"/>
<rect x="774.0" y="325.0" width="4.0" height="12.0" fill="none" stroke="#777" stroke-width="0.7" fill="none"/>
<line x1="751.4" y1="318.5" x2="776.7" y2="318.5" stroke="#888" stroke-width="1"/>
<line x1="751.4" y1="345.5" x2="776.7" y2="345.5" stroke="#888" stroke-width="1"/>
<line x1="751.5" y1="352.0" x2="751.5" y2="373.4" stroke="#555" stroke-width="0.8" fill="none"/>
<line x1="754.5" y1="352.0" x2="754.5" y2="371.0" stroke="#555" stroke-width="0.8" fill="none"/>
<line x1="754.0" y1="371.5" x2="779.0" y2="371.5" stroke="#555" stroke-width="0.8" fill="none"/>
<line x1="751.6" y1="373.5" x2="779.0" y2="373.5" stroke="#555" stroke-width="0.8" fill="none"/>
<rect x="757.0" y="159.0" width="2.0" height="156.0" fill="#000" stroke="none"/>
<rect x="757.0" y="313.0" width="22.0" height="2.0" fill="#000" stroke="none"/>
<rect x="760.0" y="296.0" width="19.0" height="16.0" fill="none" stroke="#777" stroke-width="0.7" fill="none"/>
<polyline points="760.0,303.5 764.0,302.0 767.0,304.0 770.0,302.0 773.0,304.0" stroke="#777" stroke-width="0.7" fill="none"/>
<circle cx="775" cy="305" r="2" fill="none" stroke="#555" stroke-width="0.6"/>
<g transform="translate(727.6,300.3) rotate(180)"><rect x="-6.2" y="-4.3" width="12.3" height="8.6" rx="2.4" fill="#fff" stroke="#000" stroke-width="1.4"/><ellipse cx="0" cy="-0.2" rx="5.0" ry="2.9" fill="none" stroke="#111" stroke-width="0.9"/><path d="M-4.3,-1.7 L0,0.2 L4.3,-1.7 M-3.1,1.5 L0,-0.2 L3.1,1.5 M0,-0.4 V4.3" fill="none" stroke="#111" stroke-width="0.7"/><path d="M0,-1.1 L-0.9,0.6 L0.9,0.6 Z" fill="#000"/></g>
<circle cx="767.6" cy="186.4" r="2.5" fill="none" stroke="#555" stroke-width="0.6"/>
<line x1="765.0" y1="186.5" x2="770.2" y2="186.5" stroke="#555" stroke-width="0.6"/>
<line x1="767.5" y1="183.8" x2="767.5" y2="189.0" stroke="#555" stroke-width="0.6"/>
<rect x="764.5" y="198.5" width="7.0" height="8.0" fill="none" stroke="#555" stroke-width="0.6"/>
<line x1="761.0" y1="217.5" x2="778.0" y2="217.5" stroke="#777" stroke-width="0.7" fill="none" stroke-dasharray="5,3"/>
<line x1="764.5" y1="220.0" x2="764.5" y2="264.0" stroke="#777" stroke-width="0.7" fill="none" stroke-dasharray="5,3"/>
<line x1="761.0" y1="265.5" x2="778.0" y2="265.5" stroke="#777" stroke-width="0.7" fill="none" stroke-dasharray="5,3"/>
<line x1="764.0" y1="220.5" x2="770.0" y2="220.5" stroke="#777" stroke-width="0.7" fill="none" stroke-dasharray="5,3"/>
<rect x="779.5" y="365.5" width="113.0" height="6.0" fill="url(#dh)" stroke="#000" stroke-width="1.5"/>
<line x1="787.0" y1="236.5" x2="822.0" y2="236.5" stroke="#777" stroke-width="0.7" fill="none"/>
<line x1="787.0" y1="246.5" x2="822.0" y2="246.5" stroke="#777" stroke-width="0.7" fill="none"/>
<line x1="787.0" y1="256.5" x2="822.0" y2="256.5" stroke="#777" stroke-width="0.7" fill="none"/>
<line x1="787.0" y1="266.5" x2="822.0" y2="266.5" stroke="#777" stroke-width="0.7" fill="none"/>
<line x1="787.0" y1="277.5" x2="822.0" y2="277.5" stroke="#777" stroke-width="0.7" fill="none"/>
<line x1="787.0" y1="287.5" x2="833.6" y2="287.5" stroke="#777" stroke-width="0.7" fill="none"/>
<line x1="787.0" y1="297.5" x2="833.6" y2="297.5" stroke="#777" stroke-width="0.7" fill="none"/>
<line x1="787.0" y1="308.5" x2="833.6" y2="308.5" stroke="#777" stroke-width="0.7" fill="none"/>
<line x1="787.0" y1="318.5" x2="833.6" y2="318.5" stroke="#777" stroke-width="0.7" fill="none"/>
<line x1="836.0" y1="246.5" x2="885.6" y2="246.5" stroke="#777" stroke-width="0.7" fill="none"/>
<line x1="836.0" y1="256.5" x2="885.6" y2="256.5" stroke="#777" stroke-width="0.7" fill="none"/>
<line x1="836.0" y1="267.5" x2="885.6" y2="267.5" stroke="#777" stroke-width="0.7" fill="none"/>
<line x1="836.0" y1="277.5" x2="885.6" y2="277.5" stroke="#777" stroke-width="0.7" fill="none"/>
<line x1="836.0" y1="287.5" x2="885.6" y2="287.5" stroke="#777" stroke-width="0.7" fill="none"/>
<line x1="836.0" y1="298.5" x2="885.6" y2="298.5" stroke="#777" stroke-width="0.7" fill="none"/>
<line x1="836.0" y1="308.5" x2="885.6" y2="308.5" stroke="#777" stroke-width="0.7" fill="none"/>
<line x1="836.0" y1="318.5" x2="885.6" y2="318.5" stroke="#777" stroke-width="0.7" fill="none"/>
<rect x="822.0" y="237.0" width="7.0" height="47.0" fill="none" stroke="#777" stroke-width="0.7" fill="none"/>
<line x1="833.5" y1="288.0" x2="833.5" y2="319.0" stroke="#777" stroke-width="0.7" fill="none"/>
<line x1="837.5" y1="246.6" x2="837.5" y2="319.0" stroke="#777" stroke-width="0.7" fill="none"/>
<line x1="839.5" y1="246.6" x2="839.5" y2="319.0" stroke="#777" stroke-width="0.7" fill="none"/>
<polyline points="788.5,269.5 806.5,276.5 811.5,270.5 809.5,287.5 814.5,281.5 828.5,287.5" stroke="#777" stroke-width="0.7" fill="none"/>
<line x1="810.5" y1="319.0" x2="810.5" y2="289.0" stroke="#777" stroke-width="0.7" fill="none"/>
<polyline points="807.5,293.5 810.5,289.5 813.5,293.5" stroke="#777" stroke-width="0.7" fill="none"/>
<line x1="804.5" y1="276.0" x2="804.5" y2="237.0" stroke="#777" stroke-width="0.7" fill="none"/>
<polyline points="801.5,241.5 804.5,237.5 806.5,241.5" stroke="#777" stroke-width="0.7" fill="none"/>
<line x1="861.5" y1="247.0" x2="861.5" y2="317.0" stroke="#777" stroke-width="0.7" fill="none"/>
<polyline points="858.5,313.5 861.5,317.5 863.5,313.5" stroke="#777" stroke-width="0.7" fill="none"/>
<circle cx="848.0" cy="342.0" r="7.6" fill="none" stroke="#222" stroke-width="0.8"/>
<text x="848.0" y="345.5" font-size="10" font-family='"Liberation Sans", sans-serif' text-anchor="middle" fill="#1a1a1a" textLength="9.6" lengthAdjust="spacingAndGlyphs">105</text>
<line x1="781.5" y1="371.0" x2="781.5" y2="386.0" stroke="#555" stroke-width="0.8" fill="none"/>
<line x1="889.5" y1="371.0" x2="889.5" y2="385.0" stroke="#555" stroke-width="0.8" fill="none"/>
<polygon points="779.0,386.6 795.1,382.4 795.1,384.0 779.0,388.2" fill="#111" stroke="none"/>
<line x1="779.0" y1="382.5" x2="795.1" y2="382.5" stroke="#888" stroke-width="0.6"/>
<polygon points="795.1,386.6 811.3,382.4 811.3,384.0 795.1,388.2" fill="#111" stroke="none"/>
<line x1="795.1" y1="382.5" x2="811.3" y2="382.5" stroke="#888" stroke-width="0.6"/>
<polygon points="811.3,386.6 827.4,382.4 827.4,384.0 811.3,388.2" fill="#111" stroke="none"/>
<line x1="811.3" y1="382.5" x2="827.4" y2="382.5" stroke="#888" stroke-width="0.6"/>
<polygon points="827.5,386.6 843.6,382.4 843.6,384.0 827.5,388.2" fill="#111" stroke="none"/>
<line x1="827.5" y1="382.5" x2="843.6" y2="382.5" stroke="#888" stroke-width="0.6"/>
<polygon points="843.6,386.6 859.8,382.4 859.8,384.0 843.6,388.2" fill="#111" stroke="none"/>
<line x1="843.6" y1="382.5" x2="859.8" y2="382.5" stroke="#888" stroke-width="0.6"/>
<polygon points="859.8,386.6 875.9,382.4 875.9,384.0 859.8,388.2" fill="#111" stroke="none"/>
<line x1="859.8" y1="382.5" x2="875.9" y2="382.5" stroke="#888" stroke-width="0.6"/>
<polygon points="875.9,386.6 892.0,382.4 892.0,384.0 875.9,388.2" fill="#111" stroke="none"/>
<line x1="875.9" y1="382.5" x2="892.0" y2="382.5" stroke="#888" stroke-width="0.6"/>
<line x1="779.5" y1="371.2" x2="779.5" y2="389.0" stroke="#111" stroke-width="1"/>
<line x1="892.5" y1="371.2" x2="892.5" y2="386.0" stroke="#111" stroke-width="1"/>
<polygon points="293.5,368.5 338.5,368.5 338.5,365.5 368.5,365.5 368.5,372.5 341.5,372.5 341.5,375.5 293.5,375.5" fill="url(#dh)" stroke="#000" stroke-width="1.5"/>
<rect x="293.5" y="375.5" width="9.0" height="171.0" fill="url(#dt)" stroke="#000" stroke-width="1.5"/>
<line x1="368.5" y1="366.0" x2="368.5" y2="400.5" stroke="#111" stroke-width="1.1"/>
<path d="M368.0,400.5 A34.5,34.5 0 0 0 402.5,366.0" stroke="#000" stroke-width="0.95" fill="none" stroke-dasharray="1.8,0.8"/>
<line x1="416.5" y1="366.0" x2="416.5" y2="380.0" stroke="#111" stroke-width="1.1"/>
<path d="M416.0,380.0 A14.0,14.0 0 0 1 402.0,366.0" stroke="#000" stroke-width="0.95" fill="none" stroke-dasharray="1.8,0.8"/>
<rect x="417.5" y="365.5" width="106.0" height="7.0" fill="url(#dh)" stroke="#000" stroke-width="1.5"/>
<rect x="522.5" y="356.5" width="14.0" height="15.0" fill="url(#dh)" stroke="#000" stroke-width="1.5"/>
<line x1="443.5" y1="322.5" x2="484.5" y2="322.5" stroke="#111" stroke-width="1.3"/>
<path d="M484.5,322.5 A41.0,41.0 0 0 1 443.5,363.5" stroke="#000" stroke-width="0.95" fill="none" stroke-dasharray="1.8,0.8"/>
<rect x="478.7" y="321.1" width="4.6" height="2.8" rx="1" fill="#111" transform="rotate(0 481.0 322.5)"/>
<line x1="517.5" y1="314.0" x2="517.5" y2="355.0" stroke="#777" stroke-width="0.7" fill="none"/>
<line x1="538.5" y1="314.0" x2="538.5" y2="355.0" stroke="#777" stroke-width="0.7" fill="none"/>
<line x1="513.5" y1="316.5" x2="541.0" y2="316.5" stroke="#888" stroke-width="1"/>
<line x1="513.5" y1="355.5" x2="540.0" y2="355.5" stroke="#888" stroke-width="1.2"/>
<line x1="517.5" y1="336.5" x2="538.0" y2="336.5" stroke="#777" stroke-width="0.7" fill="none"/>
<text x="527.5" y="333.0" font-size="7" font-family='"Liberation Sans", sans-serif' text-anchor="start" fill="#1a1a1a" textLength="8.0" lengthAdjust="spacingAndGlyphs">1:10</text>
<rect x="437.5" y="372.5" width="6.0" height="38.0" fill="url(#dh)" stroke="#000" stroke-width="1.5"/>
<rect x="437.5" y="444.5" width="6.0" height="13.0" fill="url(#dh)" stroke="#000" stroke-width="1.5"/>
<rect x="531.5" y="358.5" width="6.0" height="99.0" fill="url(#dh)" stroke="#000" stroke-width="1.5"/>
<rect x="437.5" y="385.5" width="100.0" height="7.0" fill="url(#dh)" stroke="#000" stroke-width="1.5"/>
<rect x="437.5" y="451.5" width="100.0" height="6.0" fill="url(#dh)" stroke="#000" stroke-width="1.5"/>
<rect x="443.5" y="372.5" width="88.0" height="13.0" fill="none" stroke="#000" stroke-width="1.5"/>
<rect x="443.5" y="392.5" width="88.0" height="59.0" fill="none" stroke="#000" stroke-width="1.5"/>
<rect x="456.0" y="407.0" width="73.0" height="38.0" fill="none" stroke="#777" stroke-width="0.7" fill="none"/>
<line x1="456.0" y1="407.0" x2="529.0" y2="445.0" stroke="#777" stroke-width="0.7" fill="none"/>
<line x1="529.0" y1="407.0" x2="456.0" y2="445.0" stroke="#777" stroke-width="0.7" fill="none"/>
<rect x="471.0" y="395.0" width="44.0" height="9.0" fill="none" stroke="#777" stroke-width="0.7" fill="none"/>
<rect x="537.0" y="356.0" width="2.0" height="222.0" fill="#000" stroke="none"/>
<line x1="541.5" y1="356.0" x2="541.5" y2="560.0" stroke="#777" stroke-width="0.7" fill="none"/>
<circle cx="387.0" cy="432.4" r="7.6" fill="none" stroke="#222" stroke-width="0.8"/>
<text x="387.0" y="435.9" font-size="10" font-family='"Liberation Sans", sans-serif' text-anchor="middle" fill="#1a1a1a" textLength="9.6" lengthAdjust="spacingAndGlyphs">112</text>
<rect x="408.5" y="437.5" width="23.0" height="10.0" fill="none" stroke="#333" stroke-width="0.8"/>
<text x="420.0" y="444.7" font-size="9.5" font-family='"Liberation Sans", sans-serif' text-anchor="middle" fill="#1a1a1a" textLength="20.2" lengthAdjust="spacingAndGlyphs">+0.620</text>
<line x1="304.5" y1="375.0" x2="304.5" y2="546.0" stroke="#222" stroke-width="0.8"/>
<rect x="303.5" y="457.5" width="56.0" height="3.0" fill="#888" stroke="#000" stroke-width="0.9"/>
<rect x="356.5" y="457.5" width="3.0" height="56.0" fill="#fff" stroke="#000" stroke-width="0.9"/>
<rect x="355.5" y="510.5" width="5.0" height="4.0" fill="#fff" stroke="#000" stroke-width="0.9"/>
<line x1="358.0" y1="540.5" x2="386.0" y2="540.5" stroke="#111" stroke-width="1.3"/>
<path d="M386.0,540.0 A28.0,28.0 0 0 0 358.0,512.0" stroke="#000" stroke-width="0.95" fill="none" stroke-dasharray="1.8,0.8"/>
<rect x="380.2" y="538.6" width="4.6" height="2.8" rx="1" fill="#111" transform="rotate(0 382.5 540.0)"/>
<circle cx="333.0" cy="489.0" r="7.6" fill="none" stroke="#222" stroke-width="0.8"/>
<text x="333.0" y="492.5" font-size="10" font-family='"Liberation Sans", sans-serif' text-anchor="middle" fill="#1a1a1a" textLength="9.6" lengthAdjust="spacingAndGlyphs">113</text>
<rect x="436.5" y="457.5" width="7.0" height="25.0" fill="url(#dh)" stroke="#000" stroke-width="1.5"/>
<line x1="443.0" y1="482.5" x2="473.0" y2="482.5" stroke="#111" stroke-width="1.3"/>
<path d="M473.0,482.4 A30.0,30.0 0 0 1 443.0,512.4" stroke="#000" stroke-width="0.95" fill="none" stroke-dasharray="1.8,0.8"/>
<line x1="443.0" y1="542.5" x2="473.0" y2="542.5" stroke="#111" stroke-width="1.3"/>
<path d="M473.0,542.0 A30.0,30.0 0 0 0 443.0,512.0" stroke="#000" stroke-width="0.95" fill="none" stroke-dasharray="1.8,0.8"/>
<rect x="436.5" y="543.5" width="7.0" height="6.0" fill="url(#dh)" stroke="#000" stroke-width="0.9"/>
<rect x="526.5" y="457.5" width="11.0" height="89.0" fill="url(#dh)" stroke="#000" stroke-width="1.5"/>
<line x1="531.5" y1="457.0" x2="531.5" y2="546.0" stroke="#000" stroke-width="0.8"/>
<circle cx="483.6" cy="486.4" r="7.6" fill="none" stroke="#222" stroke-width="0.8"/>
<text x="483.6" y="489.9" font-size="10" font-family='"Liberation Sans", sans-serif' text-anchor="middle" fill="#1a1a1a" textLength="9.6" lengthAdjust="spacingAndGlyphs">114</text>
<line x1="396.5" y1="477.0" x2="396.5" y2="549.0" stroke="#555" stroke-width="0.8" fill="none"/>
<line x1="392.0" y1="481.5" x2="433.0" y2="481.5" stroke="#777" stroke-width="0.7" fill="none"/>
<line x1="392.0" y1="544.5" x2="433.0" y2="544.5" stroke="#777" stroke-width="0.7" fill="none"/>
<line x1="393.5" y1="484.0" x2="399.5" y2="478.0" stroke="#111" stroke-width="1"/>
<line x1="393.5" y1="547.0" x2="399.5" y2="541.0" stroke="#111" stroke-width="1"/>
<text x="392.5" y="512.5" font-size="10" font-family='"Liberation Sans", sans-serif' text-anchor="middle" fill="#1a1a1a" textLength="15.0" lengthAdjust="spacingAndGlyphs" transform="rotate(-90 392.5 512.5)">1840</text>
<rect x="293.5" y="546.5" width="13.0" height="13.0" fill="url(#dh)" stroke="#000" stroke-width="1.5"/>
<rect x="345.5" y="546.5" width="14.0" height="13.0" fill="url(#dh)" stroke="#000" stroke-width="1.5"/>
<rect x="306.5" y="549.5" width="39.0" height="10.0" fill="url(#dt)" stroke="#000" stroke-width="1.5"/>
<rect x="359.5" y="549.5" width="6.0" height="10.0" fill="url(#dt)" stroke="#000" stroke-width="0.9"/>
<rect x="287.5" y="559.5" width="78.0" height="6.0" fill="url(#xh)" stroke="#000" stroke-width="0.9"/>
<line x1="365.0" y1="549.5" x2="435.0" y2="549.5" stroke="#777" stroke-width="0.7" fill="none"/>
<line x1="365.0" y1="558.5" x2="435.0" y2="558.5" stroke="#777" stroke-width="0.7" fill="none"/>
<line x1="365.0" y1="565.5" x2="435.0" y2="565.5" stroke="#777" stroke-width="0.7" fill="none"/>
<line x1="365.0" y1="560.5" x2="435.0" y2="560.5" stroke="#444" stroke-width="0.8"/>
<rect x="435.5" y="549.5" width="25.0" height="10.0" fill="url(#dt)" stroke="#000" stroke-width="1.5"/>
<rect x="435.5" y="559.5" width="25.0" height="6.0" fill="url(#xh)" stroke="#000" stroke-width="0.9"/>
<rect x="436.5" y="546.5" width="6.0" height="3.0" fill="#fff" stroke="#000" stroke-width="0.9"/>
<polygon points="512.5,559.5 524.5,559.5 524.5,577.5 539.5,577.5 539.5,587.5 512.5,587.5" fill="url(#xh)" stroke="#000" stroke-width="0.9"/>
<rect x="512.5" y="549.5" width="12.0" height="10.0" fill="url(#dt)" stroke="#000" stroke-width="1.5"/>
<rect x="523.5" y="546.5" width="13.0" height="31.0" fill="url(#dh)" stroke="#000" stroke-width="1.5"/>
<line x1="512.0" y1="587.5" x2="1148.0" y2="587.5" stroke="#555" stroke-width="0.8" fill="none"/>
<line x1="539.0" y1="560.5" x2="760.0" y2="560.5" stroke="#555" stroke-width="0.8" fill="none"/>
<line x1="539.0" y1="563.5" x2="760.0" y2="563.5" stroke="#111" stroke-width="1"/>
<line x1="539.0" y1="570.5" x2="697.0" y2="570.5" stroke="#777" stroke-width="0.7" fill="none"/>
<line x1="539.0" y1="578.5" x2="697.0" y2="578.5" stroke="#777" stroke-width="0.7" fill="none"/>
<line x1="539.0" y1="580.5" x2="697.0" y2="580.5" stroke="#777" stroke-width="0.7" fill="none"/>
<line x1="539.0" y1="585.5" x2="697.0" y2="585.5" stroke="#777" stroke-width="0.7" fill="none"/>
<line x1="718.0" y1="570.5" x2="875.0" y2="570.5" stroke="#777" stroke-width="0.7" fill="none"/>
<line x1="718.0" y1="578.5" x2="875.0" y2="578.5" stroke="#777" stroke-width="0.7" fill="none"/>
<line x1="718.0" y1="580.5" x2="875.0" y2="580.5" stroke="#777" stroke-width="0.7" fill="none"/>
<line x1="718.0" y1="585.5" x2="875.0" y2="585.5" stroke="#777" stroke-width="0.7" fill="none"/>
<line x1="895.0" y1="570.5" x2="924.0" y2="570.5" stroke="#777" stroke-width="0.7" fill="none"/>
<line x1="895.0" y1="578.5" x2="924.0" y2="578.5" stroke="#777" stroke-width="0.7" fill="none"/>
<line x1="895.0" y1="580.5" x2="924.0" y2="580.5" stroke="#777" stroke-width="0.7" fill="none"/>
<line x1="895.0" y1="585.5" x2="924.0" y2="585.5" stroke="#777" stroke-width="0.7" fill="none"/>
<line x1="984.0" y1="570.5" x2="1012.0" y2="570.5" stroke="#777" stroke-width="0.7" fill="none"/>
<line x1="984.0" y1="578.5" x2="1012.0" y2="578.5" stroke="#777" stroke-width="0.7" fill="none"/>
<line x1="984.0" y1="580.5" x2="1012.0" y2="580.5" stroke="#777" stroke-width="0.7" fill="none"/>
<line x1="984.0" y1="585.5" x2="1012.0" y2="585.5" stroke="#777" stroke-width="0.7" fill="none"/>
<line x1="1032.0" y1="570.5" x2="1148.0" y2="570.5" stroke="#777" stroke-width="0.7" fill="none"/>
<line x1="1032.0" y1="578.5" x2="1148.0" y2="578.5" stroke="#777" stroke-width="0.7" fill="none"/>
<line x1="1032.0" y1="580.5" x2="1148.0" y2="580.5" stroke="#777" stroke-width="0.7" fill="none"/>
<line x1="1032.0" y1="585.5" x2="1148.0" y2="585.5" stroke="#777" stroke-width="0.7" fill="none"/>
<rect x="698.5" y="577.5" width="20.0" height="10.0" fill="url(#xh)" stroke="#000" stroke-width="0.9"/>
<rect x="697.5" y="570.5" width="4.0" height="10.0" fill="#fff" stroke="#000" stroke-width="0.9"/>
<rect x="715.5" y="570.5" width="3.0" height="10.0" fill="#fff" stroke="#000" stroke-width="0.9"/>
<rect x="701.5" y="563.5" width="14.0" height="14.0" fill="url(#dh)" stroke="#000" stroke-width="1.5"/>
<rect x="875.5" y="577.5" width="20.0" height="10.0" fill="url(#xh)" stroke="#000" stroke-width="0.9"/>
<rect x="874.5" y="570.5" width="4.0" height="10.0" fill="#fff" stroke="#000" stroke-width="0.9"/>
<rect x="892.5" y="570.5" width="3.0" height="10.0" fill="#fff" stroke="#000" stroke-width="0.9"/>
<rect x="878.5" y="563.5" width="14.0" height="14.0" fill="url(#dh)" stroke="#000" stroke-width="1.5"/>
<rect x="1012.5" y="577.5" width="20.0" height="10.0" fill="url(#xh)" stroke="#000" stroke-width="0.9"/>
<rect x="1012.5" y="570.5" width="3.0" height="10.0" fill="#fff" stroke="#000" stroke-width="0.9"/>
<rect x="1029.5" y="570.5" width="4.0" height="10.0" fill="#fff" stroke="#000" stroke-width="0.9"/>
<rect x="1015.5" y="563.5" width="14.0" height="14.0" fill="url(#dh)" stroke="#000" stroke-width="1.5"/>
<rect x="889.5" y="559.5" width="4.0" height="4.0" fill="#fff" stroke="#000" stroke-width="1.5"/>
<line x1="924.5" y1="570.0" x2="924.5" y2="600.0" stroke="#555" stroke-width="0.8" fill="none"/>
<path d="M924.0,600.0 A30.0,30.0 0 0 0 954.0,570.0" stroke="#555" stroke-width="0.8" fill="none"/>
<line x1="984.5" y1="570.0" x2="984.5" y2="600.0" stroke="#555" stroke-width="0.8" fill="none"/>
<path d="M984.0,600.0 A30.0,30.0 0 0 1 954.0,570.0" stroke="#555" stroke-width="0.8" fill="none"/>
<line x1="924.5" y1="570.0" x2="924.5" y2="587.4" stroke="#555" stroke-width="0.8" fill="none"/>
<line x1="984.5" y1="570.0" x2="984.5" y2="587.4" stroke="#555" stroke-width="0.8" fill="none"/>
<line x1="462.5" y1="565.0" x2="462.5" y2="594.0" stroke="#555" stroke-width="0.8" fill="none"/>
<path d="M462.0,595.0 A30.0,30.0 0 0 0 492.0,565.0" stroke="#555" stroke-width="0.8" fill="none"/>
<line x1="509.5" y1="565.0" x2="509.5" y2="583.0" stroke="#555" stroke-width="0.8" fill="none"/>
<path d="M509.6,583.0 A18.0,18.0 0 0 1 491.6,565.0" stroke="#555" stroke-width="0.8" fill="none"/>
<line x1="434.5" y1="567.0" x2="434.5" y2="665.6" stroke="#777" stroke-width="0.7" fill="none"/>
<rect x="454.0" y="568.0" width="3.0" height="102.0" fill="#aaa" stroke="none"/>
<line x1="434.0" y1="665.5" x2="531.0" y2="665.5" stroke="#777" stroke-width="0.7" fill="none"/>
<line x1="457.0" y1="649.5" x2="531.0" y2="649.5" stroke="#777" stroke-width="0.7" fill="none"/>
<line x1="457.0" y1="659.5" x2="531.0" y2="659.5" stroke="#777" stroke-width="0.7" fill="none"/>
<line x1="457.0" y1="669.5" x2="531.0" y2="669.5" stroke="#777" stroke-width="0.7" fill="none"/>
<line x1="491.5" y1="669.0" x2="491.5" y2="649.5" stroke="#777" stroke-width="0.7" fill="none"/>
<polyline points="488.5,653.5 491.5,649.5 494.5,653.5" stroke="#777" stroke-width="0.7" fill="none"/>
<line x1="531.5" y1="587.4" x2="531.5" y2="669.6" stroke="#777" stroke-width="0.7" fill="none"/>
<rect x="531.0" y="650.0" width="224.0" height="2.0" fill="#aaa" stroke="none"/>
<line x1="755.0" y1="650.5" x2="766.0" y2="650.5" stroke="#777" stroke-width="0.7" fill="none"/>
<line x1="531.0" y1="665.5" x2="1180.0" y2="665.5" stroke="#777" stroke-width="0.7" fill="none"/>
<line x1="531.0" y1="620.5" x2="754.4" y2="620.5" stroke="#777" stroke-width="0.7" fill="none"/>
<polyline points="750.5,617.5 754.5,620.5 750.5,622.5" stroke="#777" stroke-width="0.7" fill="none"/>
<line x1="623.0" y1="613.5" x2="655.0" y2="613.5" stroke="#777" stroke-width="0.7" fill="none"/>
<polyline points="651.5,611.5 657.5,613.5 651.5,614.5" stroke="#444" stroke-width="0.8" fill="#444"/>
<line x1="754.5" y1="587.4" x2="754.5" y2="652.0" stroke="#777" stroke-width="0.7" fill="none"/>
<rect x="468.0" y="610.0" width="49.0" height="20.0" fill="none" stroke="#777" stroke-width="0.7" fill="none"/>
<line x1="468.0" y1="612.5" x2="517.0" y2="612.5" stroke="#777" stroke-width="0.7" fill="none"/>
<line x1="468.0" y1="614.5" x2="517.0" y2="614.5" stroke="#777" stroke-width="0.7" fill="none"/>
<line x1="468.0" y1="617.5" x2="517.0" y2="617.5" stroke="#777" stroke-width="0.7" fill="none"/>
<line x1="468.0" y1="619.5" x2="517.0" y2="619.5" stroke="#777" stroke-width="0.7" fill="none"/>
<line x1="468.0" y1="622.5" x2="517.0" y2="622.5" stroke="#777" stroke-width="0.7" fill="none"/>
<line x1="468.0" y1="624.5" x2="517.0" y2="624.5" stroke="#777" stroke-width="0.7" fill="none"/>
<line x1="468.0" y1="627.5" x2="517.0" y2="627.5" stroke="#777" stroke-width="0.7" fill="none"/>
<rect x="930.0" y="610.0" width="49.0" height="20.0" fill="none" stroke="#777" stroke-width="0.7" fill="none"/>
<line x1="930.0" y1="612.5" x2="979.0" y2="612.5" stroke="#777" stroke-width="0.7" fill="none"/>
<line x1="930.0" y1="614.5" x2="979.0" y2="614.5" stroke="#777" stroke-width="0.7" fill="none"/>
<line x1="930.0" y1="617.5" x2="979.0" y2="617.5" stroke="#777" stroke-width="0.7" fill="none"/>
<line x1="930.0" y1="619.5" x2="979.0" y2="619.5" stroke="#777" stroke-width="0.7" fill="none"/>
<line x1="930.0" y1="622.5" x2="979.0" y2="622.5" stroke="#777" stroke-width="0.7" fill="none"/>
<line x1="930.0" y1="624.5" x2="979.0" y2="624.5" stroke="#777" stroke-width="0.7" fill="none"/>
<line x1="930.0" y1="627.5" x2="979.0" y2="627.5" stroke="#777" stroke-width="0.7" fill="none"/>
<polyline points="875.5,587.5 875.5,661.5 1037.5,661.5 1037.5,587.5" stroke="#777" stroke-width="0.7" fill="none"/>
<polyline points="887.5,587.5 887.5,649.5 1037.5,649.5" stroke="#777" stroke-width="0.7" fill="none"/>
<rect x="1038.0" y="649.0" width="53.0" height="2.0" fill="#aaa" stroke="none"/>
<line x1="1091.4" y1="649.5" x2="1105.5" y2="649.5" stroke="#777" stroke-width="0.7" fill="none"/>
<line x1="1091.5" y1="587.4" x2="1091.5" y2="651.4" stroke="#777" stroke-width="0.7" fill="none"/>
<line x1="1037.6" y1="618.5" x2="1091.4" y2="618.5" stroke="#777" stroke-width="0.7" fill="none"/>
<polyline points="1087.5,615.5 1091.5,618.5 1087.5,621.5" stroke="#777" stroke-width="0.7" fill="none"/>
<line x1="1180.5" y1="587.4" x2="1180.5" y2="665.6" stroke="#777" stroke-width="0.7" fill="none"/>
<line x1="606.5" y1="315.0" x2="606.5" y2="392.0" stroke="#333" stroke-width="0.8"/>
<line x1="617.5" y1="315.0" x2="617.5" y2="392.0" stroke="#333" stroke-width="0.8"/>
<line x1="628.5" y1="315.0" x2="628.5" y2="392.0" stroke="#333" stroke-width="0.8"/>
<line x1="638.5" y1="315.0" x2="638.5" y2="392.0" stroke="#333" stroke-width="0.8"/>
<line x1="603.0" y1="316.5" x2="641.0" y2="316.5" stroke="#888" stroke-width="1"/>
<line x1="580.0" y1="391.5" x2="641.0" y2="391.5" stroke="#333" stroke-width="0.8"/>
<line x1="541.5" y1="392.5" x2="580.0" y2="392.5" stroke="#777" stroke-width="0.7" fill="none"/>
<rect x="580.5" y="342.5" width="25.0" height="11.0" fill="none" stroke="#333" stroke-width="0.8"/>
<text x="592.5" y="351.3" font-size="9.5" font-family='"Liberation Sans", sans-serif' text-anchor="middle" fill="#1a1a1a" textLength="22.0" lengthAdjust="spacingAndGlyphs">+0.560</text>
<polyline points="580.5,391.5 580.5,485.5 613.5,485.5 613.5,525.5" stroke="#333" stroke-width="0.8" fill="none"/>
<polyline points="583.5,391.5 583.5,487.5 616.5,487.5 616.5,522.5 760.5,522.5" stroke="#333" stroke-width="0.8" fill="none"/>
<line x1="613.0" y1="525.5" x2="760.0" y2="525.5" stroke="#111" stroke-width="1.1"/>
<line x1="756.5" y1="522.0" x2="756.5" y2="563.0" stroke="#777" stroke-width="0.7" fill="none"/>
<line x1="616.5" y1="525.6" x2="616.5" y2="563.0" stroke="#777" stroke-width="0.7" fill="none"/>
<line x1="539.0" y1="484.5" x2="580.0" y2="484.5" stroke="#777" stroke-width="0.7" fill="none"/>
<rect x="558.5" y="516.5" width="26.0" height="11.0" fill="none" stroke="#333" stroke-width="0.8"/>
<text x="571.2" y="525.3" font-size="9.5" font-family='"Liberation Sans", sans-serif' text-anchor="middle" fill="#1a1a1a" textLength="22.6" lengthAdjust="spacingAndGlyphs">+0.340</text>
<text x="683.0" y="539.0" font-size="7" font-family='"Liberation Sans", sans-serif' text-anchor="middle" fill="#1a1a1a" textLength="8.0" lengthAdjust="spacingAndGlyphs">1:12</text>
<line x1="674.0" y1="542.5" x2="695.0" y2="542.5" stroke="#777" stroke-width="0.7" fill="none"/>
<polyline points="689.5,540.5 695.5,542.5 689.5,543.5" stroke="#222" stroke-width="0.8" fill="#222"/>
<text x="561.0" y="412.0" font-size="7" font-family='"Liberation Sans", sans-serif' text-anchor="middle" fill="#1a1a1a" textLength="8.0" lengthAdjust="spacingAndGlyphs" transform="rotate(-90 561.0 412.0)">1:12</text>
<line x1="561.5" y1="404.0" x2="561.5" y2="418.0" stroke="#777" stroke-width="0.7" fill="none"/>
<polyline points="560.5,414.5 561.5,419.5 563.5,414.5" stroke="#222" stroke-width="0.8" fill="#222"/>
<circle cx="750.0" cy="498.0" r="7.6" fill="none" stroke="#222" stroke-width="0.8"/>
<text x="750.0" y="501.5" font-size="10" font-family='"Liberation Sans", sans-serif' text-anchor="middle" fill="#1a1a1a" textLength="9.6" lengthAdjust="spacingAndGlyphs">102</text>
<rect x="837.5" y="473.5" width="24.0" height="10.0" fill="none" stroke="#333" stroke-width="0.8"/>
<text x="849.6" y="481.3" font-size="9.5" font-family='"Liberation Sans", sans-serif' text-anchor="middle" fill="#1a1a1a" textLength="21.0" lengthAdjust="spacingAndGlyphs">0.000</text>
<rect x="701.5" y="425.5" width="191.0" height="26.0" fill="none" stroke="#333" stroke-width="0.8"/>
<line x1="728.5" y1="425.6" x2="728.5" y2="451.0" stroke="#555" stroke-width="0.8" fill="none"/>
<line x1="865.5" y1="425.6" x2="865.5" y2="451.0" stroke="#555" stroke-width="0.8" fill="none"/>
<text x="799.5" y="440.5" font-size="8" font-family='"Liberation Serif", serif' text-anchor="middle" fill="#1a1a1a" textLength="26.0" lengthAdjust="spacingAndGlyphs" font-weight="bold">Ресепшн</text>
<text x="736.5" y="389.0" font-size="8" font-family='"Liberation Serif", serif' text-anchor="middle" fill="#1a1a1a" textLength="37.0" lengthAdjust="spacingAndGlyphs">Встроенный</text>
<text x="736.5" y="397.0" font-size="8" font-family='"Liberation Serif", serif' text-anchor="middle" fill="#1a1a1a" textLength="16.0" lengthAdjust="spacingAndGlyphs">шкаф</text>
<text x="866.0" y="540.0" font-size="7.5" font-family='"Liberation Serif", serif' text-anchor="middle" fill="#1a1a1a" textLength="30.0" lengthAdjust="spacingAndGlyphs" transform="rotate(-90 866.0 540.0)">Гардероб</text>
<polyline points="890.5,560.5 890.5,519.5 924.5,519.5" stroke="#333" stroke-width="0.8" fill="none"/>
<line x1="892.5" y1="522.0" x2="892.5" y2="560.0" stroke="#333" stroke-width="0.8" fill="none"/>
<line x1="892.0" y1="522.5" x2="924.0" y2="522.5" stroke="#333" stroke-width="0.8" fill="none"/>
<polyline points="984.5,519.5 1018.5,519.5" stroke="#333" stroke-width="0.8" fill="none"/>
<line x1="984.0" y1="522.5" x2="1018.0" y2="522.5" stroke="#333" stroke-width="0.8" fill="none"/>
<rect x="889.5" y="518.5" width="3.0" height="3.0" fill="#fff" stroke="#111" stroke-width="0.9"/>
<rect x="920.5" y="518.5" width="3.0" height="3.0" fill="#fff" stroke="#111" stroke-width="0.9"/>
<rect x="985.5" y="518.5" width="3.0" height="3.0" fill="#fff" stroke="#111" stroke-width="0.9"/>
<rect x="1016.5" y="518.5" width="3.0" height="3.0" fill="#fff" stroke="#111" stroke-width="0.9"/>
<rect x="889.5" y="559.5" width="3.0" height="3.0" fill="#fff" stroke="#111" stroke-width="0.9"/>
<line x1="924.5" y1="521.0" x2="924.5" y2="550.0" stroke="#555" stroke-width="0.8" fill="none"/>
<path d="M924.0,550.0 A29.0,29.0 0 0 0 953.0,521.0" stroke="#555" stroke-width="0.8" fill="none"/>
<line x1="983.5" y1="521.0" x2="983.5" y2="550.0" stroke="#555" stroke-width="0.8" fill="none"/>
<path d="M983.0,550.0 A29.0,29.0 0 0 1 954.0,521.0" stroke="#555" stroke-width="0.8" fill="none"/>
<circle cx="911.0" cy="538.0" r="7.6" fill="none" stroke="#222" stroke-width="0.8"/>
<text x="911.0" y="541.5" font-size="10" font-family='"Liberation Sans", sans-serif' text-anchor="middle" fill="#1a1a1a" textLength="9.6" lengthAdjust="spacingAndGlyphs">101</text>
<circle cx="961.0" cy="293.0" r="7.6" fill="none" stroke="#222" stroke-width="0.8"/>
<text x="961.0" y="296.5" font-size="10" font-family='"Liberation Sans", sans-serif' text-anchor="middle" fill="#1a1a1a" textLength="9.6" lengthAdjust="spacingAndGlyphs">106</text>
<line x1="892.2" y1="219.5" x2="909.4" y2="219.5" stroke="#000" stroke-width="1.6"/>
<line x1="893.0" y1="222.5" x2="906.3" y2="222.5" stroke="#777" stroke-width="0.7" fill="none"/>
<line x1="908.5" y1="219.4" x2="908.5" y2="317.5" stroke="#000" stroke-width="1.8"/>
<line x1="906.5" y1="222.5" x2="906.5" y2="317.5" stroke="#555" stroke-width="0.8" fill="none"/>
<polyline points="906.5,317.5 913.5,317.5 913.5,367.5" stroke="#555" stroke-width="0.8" fill="none"/>
<line x1="906.3" y1="320.5" x2="910.6" y2="320.5" stroke="#555" stroke-width="0.8" fill="none"/>
<line x1="910.5" y1="320.2" x2="910.5" y2="367.2" stroke="#555" stroke-width="0.8" fill="none"/>
<rect x="894.0" y="257.0" width="6.0" height="16.0" fill="none" stroke="#555" stroke-width="0.8" fill="none"/>
<path d="M893.8,272.7 A6.6,6.6 0 0 1 900.4,266.1" stroke="#777" stroke-width="0.7" fill="none"/>
<rect x="895.0" y="278.0" width="5.0" height="7.0" fill="none" stroke="#555" stroke-width="0.8" fill="none"/>
<rect x="894.0" y="309.0" width="6.0" height="6.0" fill="none" stroke="#555" stroke-width="0.8" fill="none"/>
<rect x="896.0" y="310.0" width="2.0" height="4.0" fill="none" stroke="#777" stroke-width="0.7" fill="none"/>
<rect x="892.5" y="367.5" width="23.0" height="4.0" fill="url(#dh)" stroke="#000" stroke-width="1.5"/>
<line x1="917.5" y1="371.6" x2="917.5" y2="382.6" stroke="#555" stroke-width="0.8" fill="none"/>
<line x1="918.5" y1="372.7" x2="918.5" y2="382.7" stroke="#555" stroke-width="0.8" fill="none"/>
<path d="M918.5,382.7 A10.0,10.0 0 0 0 928.5,372.7" stroke="#000" stroke-width="0.95" fill="none" stroke-dasharray="1.8,0.8"/>
<line x1="958.5" y1="372.0" x2="958.5" y2="402.7" stroke="#111" stroke-width="1.3"/>
<path d="M958.0,402.7 A30.7,30.7 0 0 1 927.3,372.0" stroke="#000" stroke-width="0.95" fill="none" stroke-dasharray="1.8,0.8"/>
<polygon points="959.5,367.5 1052.5,345.5 1053.5,349.5 959.5,371.5" fill="url(#dh)" stroke="#000" stroke-width="1.5"/>
<line x1="959.5" y1="367.0" x2="959.5" y2="403.0" stroke="#000" stroke-width="0.9"/>
<text x="1029.0" y="368.0" font-size="10" font-family='"Liberation Sans", sans-serif' text-anchor="middle" fill="#1a1a1a" textLength="21.0" lengthAdjust="spacingAndGlyphs">OK-2</text>
<g transform="translate(982.5,357.5) rotate(-13)"><rect x="-8.2" y="-5.8" width="16.5" height="11.5" rx="3.2" fill="#fff" stroke="#000" stroke-width="1.4"/><ellipse cx="0" cy="-0.3" rx="6.8" ry="3.9" fill="none" stroke="#111" stroke-width="0.9"/><path d="M-5.8,-2.3 L0,0.3 L5.8,-2.3 M-4.1,2.0 L0,-0.3 L4.1,2.0 M0,-0.6 V5.8" fill="none" stroke="#111" stroke-width="0.7"/><path d="M0,-1.4 L-1.2,0.9 L1.2,0.9 Z" fill="#000"/></g>
<rect x="970.0" y="371.6" width="4.6" height="23.1" fill="#fff" stroke="#000" stroke-width="1.1"/>
<polyline points="971.4,372.4 973.2,373.4 971.4,374.4 973.2,375.4 971.4,376.4 973.2,377.4 971.4,378.4 973.2,379.4 971.4,380.4 973.2,381.4 971.4,382.4 973.2,383.4 971.4,384.4 973.2,385.4 971.4,386.4 973.2,387.4 971.4,388.4 973.2,389.4 971.4,390.4 973.2,391.4 971.4,392.4 973.2,393.4" fill="none" stroke="#555" stroke-width="0.6"/>
<line x1="974.0" y1="426.5" x2="1005.0" y2="426.5" stroke="#111" stroke-width="1.3"/>
<path d="M1005.0,426.0 A31.0,31.0 0 0 0 974.0,395.0" stroke="#000" stroke-width="0.95" fill="none" stroke-dasharray="1.8,0.8"/>
<rect x="999.2" y="424.6" width="4.6" height="2.8" rx="1" fill="#111" transform="rotate(0 1001.5 426.0)"/>
<rect x="970.0" y="430.0" width="152.0" height="5.0" fill="#fff" stroke="#000" stroke-width="1.1"/>
<polyline points="970.8,431.6 971.8,433.4 972.8,431.6 973.8,433.4 974.8,431.6 975.8,433.4 976.8,431.6 977.8,433.4 978.8,431.6 979.8,433.4 980.8,431.6 981.8,433.4 982.8,431.6 983.8,433.4 984.8,431.6 985.8,433.4 986.8,431.6 987.8,433.4 988.8,431.6 989.8,433.4 990.8,431.6 991.8,433.4 992.8,431.6 993.8,433.4 994.8,431.6 995.8,433.4 996.8,431.6 997.8,433.4 998.8,431.6 999.8,433.4 1000.8,431.6 1001.8,433.4 1002.8,431.6 1003.8,433.4 1004.8,431.6 1005.8,433.4 1006.8,431.6 1007.8,433.4 1008.8,431.6 1009.8,433.4 1010.8,431.6 1011.8,433.4 1012.8,431.6 1013.8,433.4 1014.8,431.6 1015.8,433.4 1016.8,431.6 1017.8,433.4 1018.8,431.6 1019.8,433.4 1020.8,431.6 1021.8,433.4 1022.8,431.6 1023.8,433.4 1024.8,431.6 1025.8,433.4 1026.8,431.6 1027.8,433.4 1028.8,431.6 1029.8,433.4 1030.8,431.6 1031.8,433.4 1032.8,431.6 1033.8,433.4 1034.8,431.6 1035.8,433.4 1036.8,431.6 1037.8,433.4 1038.8,431.6 1039.8,433.4 1040.8,431.6 1041.8,433.4 1042.8,431.6 1043.8,433.4 1044.8,431.6 1045.8,433.4 1046.8,431.6 1047.8,433.4 1048.8,431.6 1049.8,433.4 1050.8,431.6 1051.8,433.4 1052.8,431.6 1053.8,433.4 1054.8,431.6 1055.8,433.4 1056.8,431.6 1057.8,433.4 1058.8,431.6 1059.8,433.4 1060.8,431.6 1061.8,433.4 1062.8,431.6 1063.8,433.4 1064.8,431.6 1065.8,433.4 1066.8,431.6 1067.8,433.4 1068.8,431.6 1069.8,433.4 1070.8,431.6 1071.8,433.4 1072.8,431.6 1073.8,433.4 1074.8,431.6 1075.8,433.4 1076.8,431.6 1077.8,433.4 1078.8,431.6 1079.8,433.4 1080.8,431.6 1081.8,433.4 1082.8,431.6 1083.8,433.4 1084.8,431.6 1085.8,433.4 1086.8,431.6 1087.8,433.4 1088.8,431.6 1089.8,433.4 1090.8,431.6 1091.8,433.4 1092.8,431.6 1093.8,433.4 1094.8,431.6 1095.8,433.4 1096.8,431.6 1097.8,433.4 1098.8,431.6 1099.8,433.4 1100.8,431.6 1101.8,433.4 1102.8,431.6 1103.8,433.4 1104.8,431.6 1105.8,433.4 1106.8,431.6 1107.8,433.4 1108.8,431.6 1109.8,433.4 1110.8,431.6 1111.8,433.4 1112.8,431.6 1113.8,433.4 1114.8,431.6 1115.8,433.4 1116.8,431.6 1117.8,433.4 1118.8,431.6 1119.8,433.4 1120.8,431.6" fill="none" stroke="#555" stroke-width="0.6"/>
<circle cx="1021.0" cy="403.6" r="7.6" fill="none" stroke="#222" stroke-width="0.8"/>
<text x="1021.0" y="407.1" font-size="10" font-family='"Liberation Sans", sans-serif' text-anchor="middle" fill="#1a1a1a" textLength="9.6" lengthAdjust="spacingAndGlyphs">107</text>
<line x1="1073.0" y1="309.0" x2="1086.0" y2="340.0" stroke="#222" stroke-width="2.6"/>
<line x1="1073.0" y1="309.0" x2="1086.0" y2="340.0" stroke="#fff" stroke-width="0.8" stroke-dasharray="1.5,1.5"/>
<path d="M1073.1,310.1 A33.5,33.5 0 0 0 1053.1,347.1" stroke="#000" stroke-width="0.95" fill="none" stroke-dasharray="1.8,0.8"/>
<line x1="1052.0" y1="349.0" x2="1058.0" y2="380.0" stroke="#777" stroke-width="0.7" fill="none"/>
<line x1="1058.0" y1="380.0" x2="1090.0" y2="370.0" stroke="#777" stroke-width="0.7" fill="none"/>
<line x1="1055.5" y1="378.0" x2="1060.5" y2="382.0" stroke="#111" stroke-width="0.9"/>
<text x="1075.0" y="371.0" font-size="9" font-family='"Liberation Sans", sans-serif' text-anchor="middle" fill="#1a1a1a" textLength="15.0" lengthAdjust="spacingAndGlyphs" transform="rotate(-14.7 1075.0 371.0)">1000</text>
<rect x="1090.5" y="358.5" width="14.0" height="14.0" fill="url(#dh)" stroke="#000" stroke-width="1.5"/>
<rect x="1020.5" y="435.5" width="29.0" height="12.0" fill="none" stroke="#111" stroke-width="1.2"/>
<g transform="translate(1058.0,441.3) rotate(180)"><rect x="-8.5" y="-6.0" width="17.0" height="11.9" rx="3.3" fill="#fff" stroke="#000" stroke-width="1.4"/><ellipse cx="0" cy="-0.3" rx="7.0" ry="4.0" fill="none" stroke="#111" stroke-width="0.9"/><path d="M-5.9,-2.4 L0,0.3 L5.9,-2.4 M-4.2,2.1 L0,-0.3 L4.2,2.1 M0,-0.6 V6.0" fill="none" stroke="#111" stroke-width="0.7"/><path d="M0,-1.5 L-1.3,0.9 L1.3,0.9 Z" fill="#000"/></g>
<path d="M1053.0,448.0 A29.0,29.0 0 0 1 1024.0,477.0" stroke="#000" stroke-width="0.95" fill="none" stroke-dasharray="1.8,0.8"/>
<rect x="1019.0" y="488.0" width="4.0" height="75.0" fill="#fff" stroke="#000" stroke-width="1.1"/>
<polyline points="1020.1,488.8 1021.9,489.8 1020.1,490.8 1021.9,491.8 1020.1,492.8 1021.9,493.8 1020.1,494.8 1021.9,495.8 1020.1,496.8 1021.9,497.8 1020.1,498.8 1021.9,499.8 1020.1,500.8 1021.9,501.8 1020.1,502.8 1021.9,503.8 1020.1,504.8 1021.9,505.8 1020.1,506.8 1021.9,507.8 1020.1,508.8 1021.9,509.8 1020.1,510.8 1021.9,511.8 1020.1,512.8 1021.9,513.8 1020.1,514.8 1021.9,515.8 1020.1,516.8 1021.9,517.8 1020.1,518.8 1021.9,519.8 1020.1,520.8 1021.9,521.8 1020.1,522.8 1021.9,523.8 1020.1,524.8 1021.9,525.8 1020.1,526.8 1021.9,527.8 1020.1,528.8 1021.9,529.8 1020.1,530.8 1021.9,531.8 1020.1,532.8 1021.9,533.8 1020.1,534.8 1021.9,535.8 1020.1,536.8 1021.9,537.8 1020.1,538.8 1021.9,539.8 1020.1,540.8 1021.9,541.8 1020.1,542.8 1021.9,543.8 1020.1,544.8 1021.9,545.8 1020.1,546.8 1021.9,547.8 1020.1,548.8 1021.9,549.8 1020.1,550.8 1021.9,551.8 1020.1,552.8 1021.9,553.8 1020.1,554.8 1021.9,555.8 1020.1,556.8 1021.9,557.8 1020.1,558.8 1021.9,559.8 1020.1,560.8 1021.9,561.8" fill="none" stroke="#555" stroke-width="0.6"/>
<line x1="1023.0" y1="487.5" x2="1033.5" y2="487.5" stroke="#111" stroke-width="1.2"/>
<path d="M1023.3,477.2 A10.0,10.0 0 0 1 1033.3,487.2" stroke="#000" stroke-width="0.95" fill="none" stroke-dasharray="1.8,0.8"/>
<circle cx="1065.0" cy="521.0" r="7.6" fill="none" stroke="#222" stroke-width="0.8"/>
<text x="1065.0" y="524.5" font-size="10" font-family='"Liberation Sans", sans-serif' text-anchor="middle" fill="#1a1a1a" textLength="9.6" lengthAdjust="spacingAndGlyphs">108</text>
<line x1="987.5" y1="444.0" x2="987.5" y2="489.0" stroke="#555" stroke-width="0.8" fill="none"/>
<line x1="982.0" y1="444.5" x2="1018.0" y2="444.5" stroke="#777" stroke-width="0.7" fill="none"/>
<line x1="982.0" y1="489.5" x2="1018.0" y2="489.5" stroke="#777" stroke-width="0.7" fill="none"/>
<line x1="984.6" y1="447.0" x2="990.6" y2="441.0" stroke="#111" stroke-width="1"/>
<line x1="984.6" y1="492.0" x2="990.6" y2="486.0" stroke="#111" stroke-width="1"/>
<text x="984.0" y="467.0" font-size="10" font-family='"Liberation Sans", sans-serif' text-anchor="middle" fill="#1a1a1a" textLength="15.0" lengthAdjust="spacingAndGlyphs" transform="rotate(-90 984.0 467.0)">1300</text>
<g transform="translate(567.8,302.4) rotate(0)"><rect x="-8.7" y="-6.2" width="17.4" height="12.4" rx="3.4" fill="#fff" stroke="#000" stroke-width="1.4"/><ellipse cx="0" cy="-0.3" rx="7.1" ry="4.2" fill="none" stroke="#111" stroke-width="0.9"/><path d="M-6.1,-2.5 L0,0.3 L6.1,-2.5 M-4.3,2.2 L0,-0.3 L4.3,2.2 M0,-0.6 V6.2" fill="none" stroke="#111" stroke-width="0.7"/><path d="M0,-1.6 L-1.3,0.9 L1.3,0.9 Z" fill="#000"/></g>
<circle cx="554.0" cy="242.0" r="7.6" fill="none" stroke="#222" stroke-width="0.8"/>
<text x="554.0" y="245.5" font-size="10" font-family='"Liberation Sans", sans-serif' text-anchor="middle" fill="#1a1a1a" textLength="9.6" lengthAdjust="spacingAndGlyphs">103</text>
<circle cx="710.6" cy="186.0" r="7.6" fill="none" stroke="#222" stroke-width="0.8"/>
<text x="710.6" y="189.5" font-size="10" font-family='"Liberation Sans", sans-serif' text-anchor="middle" fill="#1a1a1a" textLength="9.6" lengthAdjust="spacingAndGlyphs">104</text>
<g transform="translate(1117.3,363) rotate(-20.14)"><rect x="0" y="0" width="40.3" height="211.8" stroke="#777" stroke-width="0.7" fill="none"/><polyline points="0,6.2 34.1,6.2 34.1,204.8 0,204.8" stroke="#777" stroke-width="0.7" fill="none"/><line x1="0.5" y1="42.0" x2="34.1" y2="42.0" stroke="#777" stroke-width="0.7" fill="none"/><line x1="0.5" y1="52.5" x2="34.1" y2="52.5" stroke="#777" stroke-width="0.7" fill="none"/><line x1="0.5" y1="62.9" x2="34.1" y2="62.9" stroke="#777" stroke-width="0.7" fill="none"/><line x1="0.5" y1="73.3" x2="34.1" y2="73.3" stroke="#777" stroke-width="0.7" fill="none"/><line x1="0.5" y1="83.8" x2="34.1" y2="83.8" stroke="#777" stroke-width="0.7" fill="none"/><line x1="0.5" y1="94.2" x2="34.1" y2="94.2" stroke="#777" stroke-width="0.7" fill="none"/><line x1="0.5" y1="104.7" x2="34.1" y2="104.7" stroke="#777" stroke-width="0.7" fill="none"/><line x1="0.5" y1="115.1" x2="34.1" y2="115.1" stroke="#777" stroke-width="0.7" fill="none"/><line x1="0.5" y1="125.6" x2="34.1" y2="125.6" stroke="#777" stroke-width="0.7" fill="none"/><line x1="0.5" y1="136.1" x2="34.1" y2="136.1" stroke="#777" stroke-width="0.7" fill="none"/><line x1="0.5" y1="146.5" x2="34.1" y2="146.5" stroke="#777" stroke-width="0.7" fill="none"/><line x1="0.5" y1="156.9" x2="34.1" y2="156.9" stroke="#777" stroke-width="0.7" fill="none"/><line x1="0.5" y1="167.4" x2="34.1" y2="167.4" stroke="#777" stroke-width="0.7" fill="none"/><line x1="0.5" y1="177.8" x2="34.1" y2="177.8" stroke="#777" stroke-width="0.7" fill="none"/><line x1="0.5" y1="188.3" x2="34.1" y2="188.3" stroke="#777" stroke-width="0.7" fill="none"/><line x1="0.5" y1="198.8" x2="34.1" y2="198.8" stroke="#777" stroke-width="0.7" fill="none"/><line x1="16" y1="42" x2="16" y2="200" stroke="#777" stroke-width="0.7" fill="none"/><polyline points="13.5,196 16,200 18.5,196" stroke="#777" stroke-width="0.7" fill="none"/></g>
</svg>
</body></html>
